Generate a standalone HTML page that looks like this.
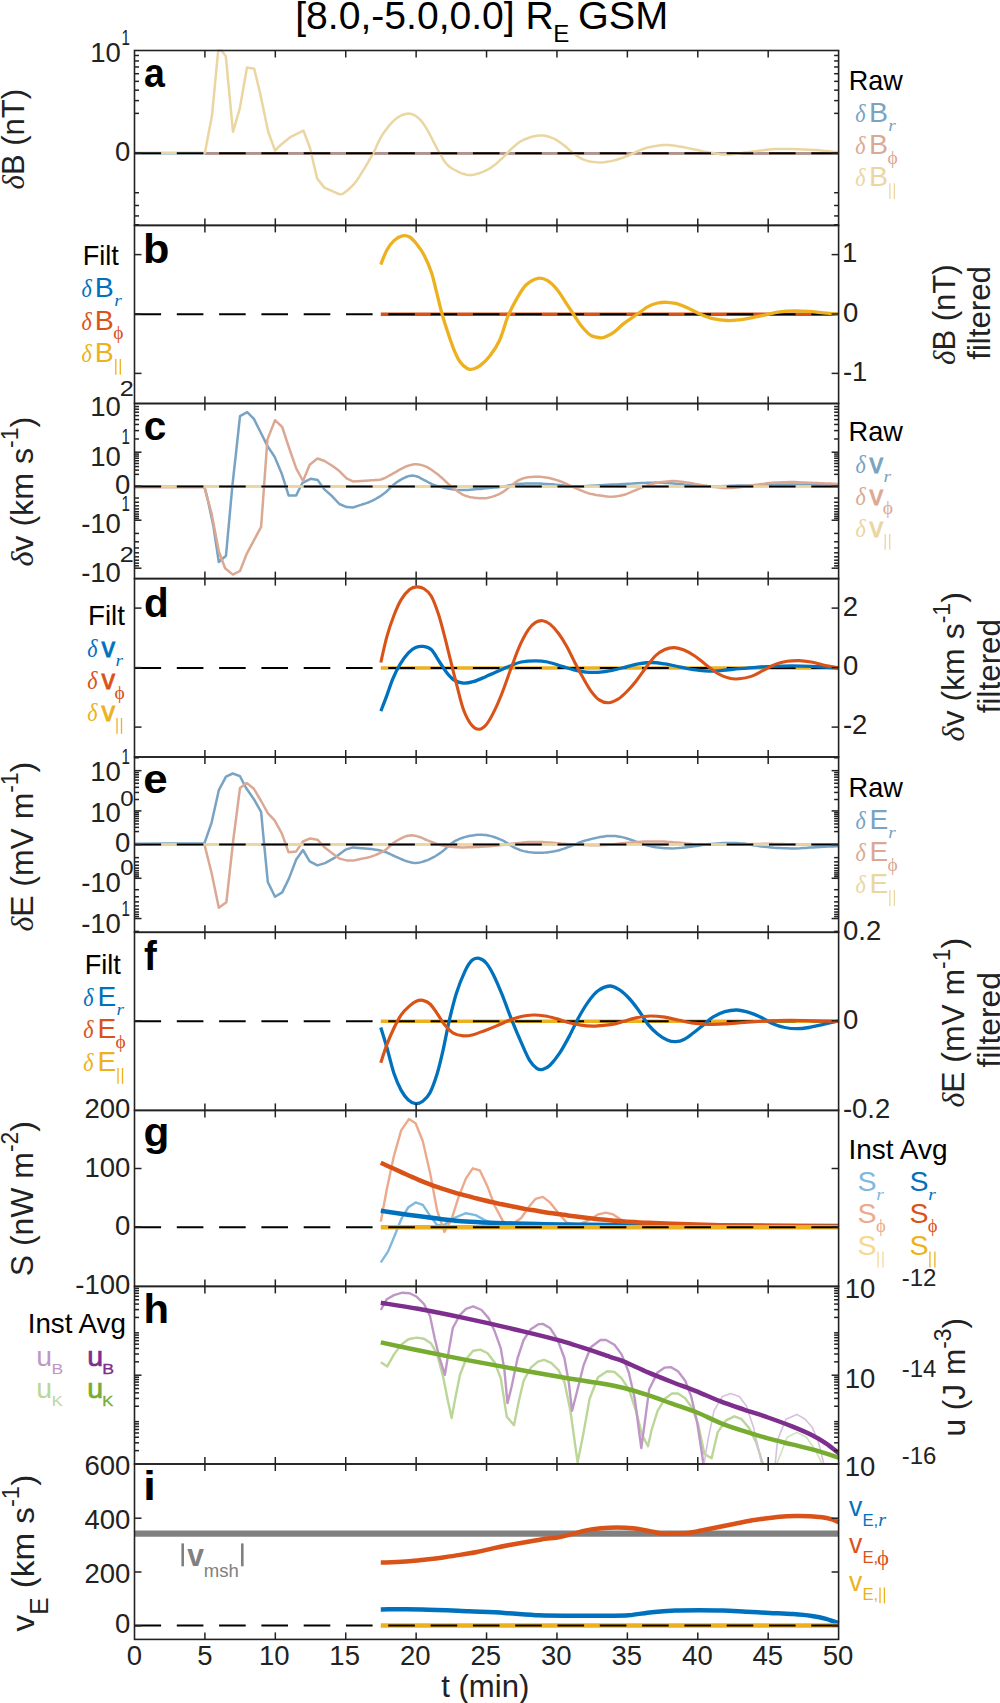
<!DOCTYPE html>
<html><head><meta charset="utf-8"><style>html,body{margin:0;padding:0;background:#fff;overflow:hidden;}svg{display:block;}</style></head>
<body><svg width="1000" height="1703" viewBox="0 0 1000 1703" font-family="&quot;Liberation Sans&quot;, sans-serif"><rect width="1000" height="1703" fill="#fff"/>
<line x1="134.50" y1="153.20" x2="838.60" y2="153.20" stroke="#78A3C2" stroke-width="2.5" />
<line x1="204.90" y1="153.50" x2="838.60" y2="153.50" stroke="#BC8E80" stroke-width="2.5" />
<polyline points="134.2,152.7 204.9,152.7 212.0,115.6 218.2,50.5 221.8,50.8 225.8,56.2 233.0,131.8 239.8,108.4 247.0,67.4 254.2,68.8 260.3,94.0 268.2,131.8 275.0,150.5 281.2,144.4 290.2,137.2 303.5,130.7 310.0,148.0 317.2,178.6 324.4,187.6 338.8,194.0 340.3,194.3 341.4,194.3 342.2,194.1 343.1,193.6 344.0,192.9 345.3,191.9 346.9,190.7 348.6,189.3 350.4,187.7 352.4,185.7 354.6,183.3 356.8,180.4 359.3,176.7 362.1,172.2 365.1,167.3 368.0,162.3 370.7,157.6 373.0,153.4 374.9,149.9 376.4,146.6 377.7,143.7 379.0,140.9 380.4,138.2 382.0,135.4 383.9,132.6 386.0,129.7 388.1,126.9 390.3,124.3 392.5,121.9 394.6,119.9 396.6,118.2 398.7,116.9 400.7,115.7 402.7,114.8 404.7,114.2 406.5,113.8 408.3,113.6 409.9,113.7 411.5,114.0 413.1,114.6 414.6,115.3 416.2,116.3 417.7,117.4 419.1,118.6 420.5,120.0 422.0,121.8 423.5,123.9 425.2,126.4 427.1,129.6 429.3,133.5 431.5,137.8 433.7,142.2 435.9,146.3 437.8,149.8 439.5,152.8 441.0,155.5 442.4,158.0 443.8,160.3 445.2,162.3 446.8,164.2 448.5,165.9 450.3,167.3 452.1,168.5 453.9,169.5 455.8,170.5 457.6,171.4 459.4,172.3 461.2,173.1 463.0,173.8 464.8,174.3 466.6,174.8 468.4,175.0 470.2,175.1 472.0,174.9 473.7,174.7 475.5,174.3 477.4,173.8 479.2,173.2 481.1,172.5 483.0,171.8 485.0,170.9 487.0,170.0 488.9,168.9 490.8,167.8 492.6,166.5 494.5,165.1 496.3,163.6 498.0,162.1 499.8,160.4 501.6,158.8 503.4,157.1 505.2,155.2 507.0,153.3 508.8,151.5 510.6,149.7 512.4,148.0 514.1,146.5 515.8,145.0 517.5,143.6 519.2,142.3 521.1,141.1 523.2,140.0 525.6,139.0 528.3,138.0 531.2,137.0 534.1,136.3 536.8,135.7 539.4,135.4 541.7,135.4 543.9,135.6 546.0,136.0 548.1,136.5 550.0,137.2 552.0,137.9 553.9,138.7 555.7,139.7 557.5,140.7 559.3,141.9 561.0,143.1 562.8,144.4 564.6,145.8 566.4,147.3 568.2,148.9 570.0,150.5 571.8,152.0 573.6,153.4 575.4,154.7 577.1,155.9 578.8,157.1 580.5,158.1 582.4,159.1 584.4,159.9 586.6,160.6 588.9,161.2 591.4,161.7 593.9,162.0 596.4,162.3 598.8,162.4 601.2,162.4 603.6,162.2 606.0,161.9 608.4,161.6 610.8,161.1 613.2,160.6 615.6,160.0 618.1,159.3 620.6,158.4 623.1,157.6 625.4,156.7 627.6,155.9 629.6,155.1 631.5,154.2 633.2,153.3 634.9,152.5 636.6,151.7 638.4,150.9 640.2,150.2 641.9,149.5 643.6,148.9 645.3,148.3 647.2,147.8 649.2,147.3 651.4,146.8 653.7,146.3 656.2,145.9 658.7,145.5 661.2,145.3 663.6,145.1 666.0,145.1 668.3,145.1 670.6,145.3 672.9,145.5 675.4,145.8 678.0,146.2 680.8,146.7 683.9,147.2 687.0,147.9 690.1,148.6 693.2,149.2 696.0,149.8 698.6,150.3 701.1,150.9 703.4,151.4 705.7,151.8 708.0,152.3 710.4,152.7 712.8,153.1 715.2,153.5 717.6,153.8 720.0,154.2 722.4,154.4 724.8,154.5 727.2,154.5 729.5,154.4 731.8,154.2 734.1,154.0 736.6,153.7 739.2,153.4 742.0,153.1 744.9,152.6 748.0,152.2 751.1,151.7 754.2,151.3 757.2,150.9 760.2,150.5 763.2,150.2 766.2,149.8 769.2,149.5 772.2,149.3 775.2,149.1 778.2,149.0 781.2,148.9 784.2,148.9 787.2,149.0 790.2,149.0 793.2,149.1 796.2,149.2 799.3,149.3 802.4,149.4 805.5,149.5 808.4,149.7 811.2,149.8 813.8,150.0 816.3,150.1 818.7,150.3 821.0,150.5 823.3,150.7 825.6,150.9 828.0,151.1 830.6,151.4 833.2,151.7 835.6,151.9 837.6,152.1 839.0,152.3" fill="none" stroke="#EBD6A2" stroke-width="2.5" stroke-linejoin="round" stroke-linecap="butt" />
<line x1="134.50" y1="153.20" x2="838.60" y2="153.20" stroke="#000" stroke-width="2.0" stroke-dasharray="26.6 15.7"/>
<line x1="380.80" y1="314.30" x2="838.60" y2="314.30" stroke="#D95319" stroke-width="3.4" />
<line x1="134.50" y1="314.30" x2="838.60" y2="314.30" stroke="#000" stroke-width="2.0" stroke-dasharray="26.6 15.7"/>
<path d="M380.8,264.6 C381.8,262.2 384.6,254.2 386.8,250.2 C389.0,246.2 391.4,243.0 394.0,240.6 C396.6,238.2 399.8,236.4 402.4,235.8 C405.0,235.2 407.2,235.6 409.6,237.0 C412.0,238.4 414.4,241.2 416.8,244.2 C419.2,247.2 421.6,250.4 424.0,255.0 C426.4,259.6 429.2,266.0 431.2,271.8 C433.2,277.6 434.2,282.8 436.0,289.8 C437.8,296.8 440.0,306.6 442.0,313.8 C444.0,321.0 446.0,327.0 448.0,333.0 C450.0,339.0 452.0,345.0 454.0,349.8 C456.0,354.6 457.8,358.7 460.0,361.8 C462.2,364.9 465.0,367.3 467.2,368.5 C469.4,369.7 471.0,369.5 473.2,369.0 C475.4,368.5 477.6,367.6 480.4,365.4 C483.2,363.2 486.8,360.0 490.0,355.8 C493.2,351.6 496.6,346.8 499.6,340.2 C502.6,333.6 505.2,323.0 508.0,316.2 C510.8,309.4 513.4,304.6 516.4,299.4 C519.4,294.2 522.4,288.5 526.0,285.0 C529.6,281.5 534.4,279.0 538.0,278.3 C541.6,277.6 544.4,278.8 547.6,280.7 C550.8,282.6 554.0,285.9 557.2,289.8 C560.4,293.7 564.0,300.0 566.8,304.2 C569.6,308.4 571.6,311.4 574.0,315.0 C576.4,318.6 578.4,322.4 581.2,325.8 C584.0,329.2 587.6,333.4 590.8,335.4 C594.0,337.4 597.9,337.6 600.4,337.8 C602.9,338.0 603.7,337.6 606.0,336.6 C608.3,335.6 611.4,334.0 614.4,331.8 C617.4,329.6 620.4,326.2 624.0,323.4 C627.6,320.6 632.0,317.8 636.0,315.0 C640.0,312.2 644.4,308.6 648.0,306.6 C651.6,304.6 654.4,303.7 657.6,303.0 C660.8,302.3 664.0,302.2 667.2,302.3 C670.4,302.4 673.2,302.7 676.8,303.7 C680.4,304.7 684.8,306.7 688.8,308.5 C692.8,310.3 696.8,312.6 700.8,314.3 C704.8,316.0 708.4,317.6 712.8,318.6 C717.2,319.6 722.8,320.3 727.2,320.5 C731.6,320.7 734.8,320.3 739.2,319.8 C743.6,319.3 748.8,318.3 753.6,317.4 C758.4,316.5 763.6,315.2 768.0,314.3 C772.4,313.4 775.6,312.5 780.0,311.9 C784.4,311.3 789.6,311.0 794.4,310.9 C799.2,310.8 804.0,311.1 808.8,311.4 C813.6,311.7 818.2,312.3 823.2,312.8 C828.2,313.3 836.4,314.1 839.0,314.3" fill="none" stroke="#EDB120" stroke-width="3.3" stroke-linejoin="round" />
<line x1="134.50" y1="486.40" x2="838.60" y2="486.40" stroke="#EBD6A2" stroke-width="2.5" />
<polyline points="134.2,486.4 204.4,486.4 208.0,500.8 213.4,526.0 218.8,562.0 226.0,555.7 232.3,486.4 235.9,454.0 240.0,416.2 247.2,412.2 253.9,418.9 260.2,431.5 267.4,445.9 274.6,456.7 281.8,473.8 288.6,495.4 296.2,495.4 302.5,482.8 310.6,478.8 317.8,480.1 324.1,489.1 332.2,496.3 339.4,504.0 346.6,507.1 352.9,507.5 361.0,504.9 362.7,504.3 364.4,503.8 366.3,503.1 368.2,502.5 370.1,501.7 372.0,500.8 373.9,499.8 375.9,498.8 377.9,497.6 380.0,496.4 382.0,495.0 384.0,493.6 386.0,492.0 388.0,490.1 390.0,488.2 392.0,486.2 394.0,484.4 396.0,482.8 398.0,481.4 400.1,480.1 402.2,478.9 404.3,477.8 406.2,477.0 408.0,476.3 409.6,475.9 411.1,475.7 412.4,475.6 413.7,475.8 415.0,476.0 416.4,476.3 417.8,476.7 419.2,477.3 420.5,478.1 421.9,478.8 423.3,479.6 424.8,480.4 426.3,481.2 427.8,482.0 429.4,482.9 431.0,483.7 432.6,484.5 434.4,485.2 436.2,485.8 438.1,486.4 440.1,486.9 442.1,487.4 444.2,487.9 446.4,488.3 448.7,488.7 451.0,489.1 453.4,489.4 455.9,489.7 458.4,489.9 460.8,490.0 463.2,490.0 465.5,490.0 467.9,489.9 470.2,489.7 472.7,489.5 475.2,489.3 477.9,489.1 480.8,488.9 483.8,488.6 486.7,488.3 489.4,488.1 492.0,487.8 494.2,487.6 496.3,487.4 498.1,487.2 500.0,486.9 501.9,486.7 504.0,486.4 506.3,486.0 508.6,485.6 511.1,485.1 513.5,484.7 516.0,484.3 518.4,484.0 520.8,483.8 523.2,483.7 525.6,483.6 528.0,483.5 530.4,483.5 532.8,483.5 535.2,483.5 537.6,483.6 540.0,483.6 542.4,483.7 544.8,483.9 547.2,484.0 549.6,484.2 552.0,484.3 554.4,484.6 556.8,484.8 559.2,485.0 561.6,485.2 563.9,485.4 566.0,485.7 568.2,485.9 570.5,486.2 573.0,486.3 576.0,486.4 579.4,486.3 583.3,486.2 587.4,485.9 591.6,485.7 595.9,485.4 600.0,485.2 604.0,485.0 608.0,484.8 612.0,484.6 616.0,484.4 620.0,484.2 624.0,484.0 628.1,483.8 632.4,483.6 636.6,483.3 640.7,483.1 644.6,482.9 648.0,482.8 650.9,482.7 653.4,482.7 655.6,482.6 657.8,482.7 660.0,482.7 662.4,482.8 665.1,482.9 667.8,483.1 670.7,483.3 673.5,483.5 676.4,483.8 679.2,484.0 682.0,484.2 684.7,484.5 687.5,484.7 690.2,485.0 693.1,485.2 696.0,485.4 699.1,485.6 702.2,485.8 705.5,486.0 708.7,486.2 712.0,486.3 715.2,486.4 718.4,486.4 721.5,486.3 724.7,486.1 727.8,486.0 731.1,485.8 734.4,485.7 737.8,485.6 741.3,485.5 744.9,485.4 748.5,485.4 752.2,485.3 756.0,485.2 759.9,485.1 763.8,485.0 767.9,484.8 771.9,484.7 776.0,484.6 780.0,484.5 783.9,484.5 787.6,484.4 791.3,484.4 795.2,484.4 799.4,484.5 804.0,484.5 809.6,484.6 816.1,484.7 823.0,484.9 829.5,485.0 835.1,485.1 839.0,485.2" fill="none" stroke="#78A3C2" stroke-width="2.5" stroke-linejoin="round" stroke-linecap="butt" />
<polyline points="134.2,487.3 204.4,487.3 211.6,513.4 218.8,551.2 225.1,568.3 232.8,574.6 240.0,571.0 246.7,553.9 253.9,540.4 261.1,526.9 263.8,490.0 267.4,439.6 275.0,420.2 282.2,427.0 288.1,445.0 296.2,468.4 303.0,481.0 309.7,464.8 317.4,458.5 324.1,460.8 332.2,465.7 339.4,471.1 346.6,478.3 352.9,481.4 361.0,481.0 362.4,480.9 363.7,480.8 365.1,480.8 366.5,480.7 368.0,480.5 369.6,480.4 371.4,480.3 373.3,480.2 375.4,480.1 377.5,480.0 379.6,479.7 381.6,479.2 383.6,478.5 385.6,477.6 387.6,476.5 389.6,475.4 391.6,474.3 393.6,473.2 395.6,472.1 397.6,470.9 399.7,469.7 401.7,468.6 403.7,467.6 405.6,466.7 407.5,466.0 409.3,465.4 411.1,464.9 412.8,464.6 414.6,464.3 416.4,464.3 418.2,464.4 420.0,464.7 421.7,465.1 423.5,465.6 425.3,466.3 427.2,467.2 429.1,468.3 431.1,469.5 433.1,470.9 435.2,472.4 437.2,474.0 439.2,475.6 441.2,477.3 443.2,479.1 445.2,481.0 447.2,482.9 449.2,484.7 451.2,486.4 453.2,488.0 455.2,489.6 457.2,491.1 459.2,492.5 461.2,493.7 463.2,494.8 465.2,495.7 467.2,496.3 469.2,496.9 471.2,497.3 473.2,497.6 475.2,497.9 477.2,498.1 479.2,498.3 481.2,498.3 483.2,498.3 485.2,498.2 487.2,497.9 489.2,497.5 491.3,497.0 493.4,496.4 495.4,495.7 497.3,494.9 499.2,494.1 500.9,493.2 502.6,492.2 504.2,491.1 505.7,489.9 507.2,488.8 508.8,487.6 510.4,486.4 512.0,485.1 513.6,483.8 515.2,482.5 516.8,481.4 518.4,480.4 520.0,479.6 521.5,479.0 523.0,478.4 524.6,478.0 526.3,477.6 528.0,477.3 529.9,477.0 531.8,476.9 533.9,476.7 535.9,476.7 538.0,476.7 540.0,476.8 542.0,477.0 544.0,477.2 546.0,477.5 548.0,477.8 550.0,478.2 552.0,478.7 554.0,479.2 556.0,479.9 558.0,480.5 560.0,481.2 562.0,482.0 564.0,482.8 566.0,483.6 568.0,484.6 570.0,485.5 572.0,486.5 574.0,487.4 576.0,488.3 578.0,489.2 580.0,490.0 582.0,490.9 584.0,491.7 586.0,492.4 588.0,493.1 590.0,493.7 592.0,494.1 594.0,494.5 596.0,494.9 598.0,495.2 600.0,495.5 602.0,495.8 604.0,496.1 606.0,496.4 608.0,496.6 610.0,496.7 612.0,496.7 614.0,496.6 616.0,496.4 618.0,496.1 620.0,495.8 622.0,495.3 624.0,494.8 626.0,494.2 628.0,493.4 630.0,492.6 632.0,491.7 634.0,490.8 636.0,490.0 638.0,489.2 640.0,488.3 642.0,487.5 644.0,486.7 646.0,485.9 648.0,485.2 650.0,484.6 651.9,484.0 653.9,483.5 655.8,483.1 657.9,482.7 660.0,482.3 662.3,482.0 664.6,481.7 667.1,481.4 669.5,481.2 672.0,481.1 674.4,481.1 676.8,481.2 679.2,481.4 681.6,481.7 684.0,482.1 686.4,482.4 688.8,482.8 691.2,483.2 693.7,483.6 696.1,484.1 698.6,484.6 700.9,485.0 703.2,485.4 705.3,485.7 707.4,486.1 709.4,486.3 711.3,486.6 713.2,486.9 715.2,487.1 717.2,487.3 719.1,487.6 721.1,487.8 723.0,488.0 725.1,488.1 727.2,488.1 729.5,488.0 731.8,487.9 734.3,487.7 736.7,487.5 739.2,487.2 741.6,486.9 744.0,486.6 746.3,486.2 748.6,485.8 751.0,485.4 753.5,485.1 756.0,484.7 758.6,484.4 761.3,484.0 764.1,483.7 766.9,483.3 769.8,483.0 772.8,482.8 775.9,482.6 779.0,482.4 782.2,482.3 785.5,482.2 788.8,482.1 792.0,482.1 795.2,482.1 798.5,482.2 801.8,482.4 805.0,482.5 808.1,482.7 811.2,482.8 814.2,482.9 817.2,483.0 820.1,483.2 822.9,483.3 825.6,483.4 828.0,483.5 830.3,483.6 832.5,483.7 834.5,483.8 836.4,483.9 837.9,483.9 839.0,484.0" fill="none" stroke="#DBA993" stroke-width="2.5" stroke-linejoin="round" stroke-linecap="butt" />
<line x1="134.50" y1="486.40" x2="838.60" y2="486.40" stroke="#EBD6A2" stroke-width="2.5" />
<line x1="134.50" y1="486.40" x2="838.60" y2="486.40" stroke="#000" stroke-width="2.0" stroke-dasharray="26.6 15.7"/>
<line x1="380.80" y1="668.00" x2="838.60" y2="668.00" stroke="#EDB120" stroke-width="3.6" />
<line x1="134.50" y1="668.00" x2="838.60" y2="668.00" stroke="#000" stroke-width="2.0" stroke-dasharray="26.6 15.7"/>
<path d="M380.8,711.2 C381.8,708.6 384.8,701.0 386.8,695.6 C388.8,690.2 390.6,684.0 392.8,678.8 C395.0,673.6 397.4,668.7 400.0,664.4 C402.6,660.1 405.8,655.7 408.4,652.9 C411.0,650.1 413.2,648.7 415.6,647.6 C418.0,646.5 420.2,646.1 422.8,646.4 C425.4,646.7 428.4,646.9 431.2,649.5 C434.0,652.1 437.0,658.1 439.6,662.0 C442.2,665.9 444.4,669.8 446.8,672.8 C449.2,675.8 451.2,678.3 454.0,680.0 C456.8,681.7 460.4,682.8 463.6,683.1 C466.8,683.4 469.6,682.7 473.2,681.7 C476.8,680.7 481.2,678.6 485.2,676.9 C489.2,675.2 493.2,673.4 497.2,671.6 C501.2,669.8 505.2,667.9 509.2,666.3 C513.2,664.7 516.8,662.9 521.2,662.0 C525.6,661.1 531.2,660.8 535.6,660.8 C540.0,660.8 543.2,661.1 547.6,662.0 C552.0,662.9 557.6,665.0 562.0,666.3 C566.4,667.6 570.0,668.9 574.0,669.9 C578.0,670.9 582.0,671.7 586.0,672.1 C590.0,672.5 593.7,672.6 598.0,672.3 C602.3,672.0 607.3,671.3 612.0,670.4 C616.7,669.5 622.0,667.9 626.4,666.8 C630.8,665.7 634.0,664.6 638.4,663.9 C642.8,663.2 648.4,662.5 652.8,662.5 C657.2,662.5 660.4,663.2 664.8,663.9 C669.2,664.6 674.4,665.8 679.2,666.8 C684.0,667.8 688.8,669.0 693.6,669.7 C698.4,670.4 703.2,671.0 708.0,671.1 C712.8,671.2 717.2,670.8 722.4,670.4 C727.6,670.0 733.6,669.2 739.2,668.7 C744.8,668.2 750.4,667.7 756.0,667.3 C761.6,666.9 766.8,666.5 772.8,666.3 C778.8,666.0 785.6,665.8 792.0,665.8 C798.4,665.8 803.4,665.9 811.2,666.3 C819.0,666.7 834.4,667.7 839.0,668.0" fill="none" stroke="#0072BD" stroke-width="3.3" stroke-linejoin="round" />
<path d="M380.8,662.5 C381.8,658.2 384.6,644.7 386.8,636.8 C389.0,628.9 391.6,621.4 394.0,615.2 C396.4,609.0 398.6,603.9 401.2,599.6 C403.8,595.3 407.0,591.6 409.6,589.5 C412.2,587.4 414.4,587.0 416.8,586.9 C419.2,586.8 421.6,587.3 424.0,588.8 C426.4,590.3 428.8,591.8 431.2,596.0 C433.6,600.2 436.2,607.4 438.4,614.0 C440.6,620.6 442.4,628.0 444.4,635.6 C446.4,643.2 448.4,651.6 450.4,659.6 C452.4,667.6 454.2,675.2 456.4,683.6 C458.6,692.0 461.0,703.0 463.6,710.0 C466.2,717.0 469.4,722.4 472.0,725.6 C474.6,728.8 476.8,729.4 479.2,729.2 C481.6,729.0 484.0,727.2 486.4,724.4 C488.8,721.6 491.0,717.6 493.6,712.4 C496.2,707.2 499.0,700.8 502.0,693.2 C505.0,685.6 508.6,674.8 511.6,666.8 C514.6,658.8 517.2,651.4 520.0,645.2 C522.8,639.0 525.8,633.4 528.4,629.6 C531.0,625.8 533.2,623.9 535.6,622.4 C538.0,620.9 540.4,620.4 542.8,620.7 C545.2,621.0 547.4,622.0 550.0,624.1 C552.6,626.2 555.6,629.5 558.4,633.2 C561.2,636.9 564.0,641.4 566.8,646.4 C569.6,651.4 572.4,657.8 575.2,663.2 C578.0,668.6 581.0,674.2 583.6,678.8 C586.2,683.4 588.2,687.3 590.8,690.8 C593.4,694.3 596.3,697.9 599.2,699.9 C602.1,701.9 605.3,702.9 608.4,702.8 C611.5,702.7 615.0,701.0 618.0,699.2 C621.0,697.4 623.4,695.0 626.4,692.0 C629.4,689.0 632.8,685.2 636.0,681.2 C639.2,677.2 642.4,672.2 645.6,668.0 C648.8,663.8 652.0,659.1 655.2,656.0 C658.4,652.9 661.6,650.9 664.8,649.5 C668.0,648.1 671.2,647.5 674.4,647.6 C677.6,647.7 680.6,648.6 684.0,650.0 C687.4,651.4 691.2,653.6 694.8,656.0 C698.4,658.4 701.8,661.5 705.6,664.4 C709.4,667.3 713.6,671.2 717.6,673.5 C721.6,675.8 726.0,677.4 729.6,678.3 C733.2,679.2 735.6,679.1 739.2,678.8 C742.8,678.5 747.2,677.8 751.2,676.4 C755.2,675.0 759.2,672.4 763.2,670.4 C767.2,668.4 771.2,665.9 775.2,664.4 C779.2,662.9 783.2,661.9 787.2,661.3 C791.2,660.7 795.2,660.5 799.2,660.6 C803.2,660.7 807.2,661.3 811.2,662.0 C815.2,662.7 818.6,663.9 823.2,664.9 C827.8,665.9 836.4,667.5 839.0,668.0" fill="none" stroke="#D95319" stroke-width="3.1" stroke-linejoin="round" />
<line x1="134.50" y1="844.40" x2="838.60" y2="844.40" stroke="#EBD6A2" stroke-width="2.5" />
<polyline points="134.2,843.8 204.4,843.3 211.6,822.6 218.8,790.2 226.0,776.7 232.8,773.5 240.0,776.2 245.8,787.5 253.9,799.2 261.1,811.8 263.8,840.6 267.8,882.0 275.0,896.8 282.2,892.4 289.0,878.4 296.2,859.5 303.0,850.0 309.7,861.3 317.4,865.4 325.0,863.1 334.0,858.2 345.7,849.6 352.9,847.4 361.0,848.2 362.7,848.3 364.4,848.4 366.3,848.6 368.2,848.7 370.1,848.9 372.0,849.1 373.9,849.4 375.9,849.7 377.9,850.0 380.0,850.4 382.0,850.9 384.0,851.5 386.0,852.2 388.0,853.1 390.0,854.0 392.0,855.0 394.0,855.9 396.0,856.8 398.0,857.7 400.1,858.6 402.2,859.5 404.2,860.3 406.1,861.0 408.0,861.6 409.7,862.1 411.3,862.4 412.8,862.7 414.3,862.9 415.9,862.9 417.6,862.8 419.5,862.5 421.4,862.1 423.5,861.5 425.5,860.8 427.6,860.1 429.6,859.2 431.6,858.2 433.6,857.2 435.6,856.0 437.6,854.7 439.6,853.4 441.6,852.0 443.6,850.4 445.6,848.7 447.6,846.8 449.6,845.0 451.6,843.3 453.6,841.9 455.6,840.7 457.5,839.8 459.5,838.9 461.4,838.2 463.5,837.5 465.6,836.9 467.9,836.3 470.3,835.8 472.8,835.4 475.3,835.0 477.7,834.8 480.0,834.7 482.1,834.7 484.2,834.9 486.1,835.1 488.1,835.5 490.0,835.9 492.0,836.4 494.0,837.0 496.0,837.7 498.0,838.5 500.0,839.3 502.0,840.2 504.0,841.2 506.0,842.3 508.0,843.6 510.0,844.9 512.0,846.2 514.0,847.4 516.0,848.4 518.0,849.2 519.9,850.0 521.9,850.6 523.8,851.1 525.9,851.6 528.0,852.0 530.3,852.3 532.6,852.5 535.1,852.7 537.5,852.8 540.0,852.8 542.4,852.7 544.8,852.6 547.2,852.4 549.6,852.1 552.0,851.7 554.4,851.3 556.8,850.8 559.2,850.2 561.7,849.4 564.1,848.6 566.6,847.7 568.9,846.8 571.2,846.0 573.3,845.2 575.2,844.4 577.1,843.6 578.9,842.7 581.0,842.0 583.2,841.2 585.8,840.4 588.6,839.7 591.6,838.9 594.6,838.2 597.4,837.6 600.0,837.1 602.3,836.7 604.4,836.4 606.3,836.1 608.2,836.0 610.1,835.9 612.0,835.9 614.0,836.0 615.9,836.1 617.9,836.4 619.8,836.7 621.9,837.1 624.0,837.6 626.3,838.2 628.6,839.0 631.1,839.8 633.5,840.7 636.0,841.6 638.4,842.4 640.7,843.2 643.0,844.0 645.3,844.7 647.6,845.5 650.1,846.1 652.8,846.7 655.7,847.2 658.8,847.6 662.1,847.9 665.4,848.2 668.7,848.3 672.0,848.4 675.2,848.3 678.5,848.1 681.8,847.8 685.0,847.4 688.1,847.1 691.2,846.7 694.1,846.3 696.9,845.9 699.6,845.5 702.3,845.1 705.1,844.7 708.0,844.3 711.1,844.0 714.3,843.7 717.6,843.4 720.9,843.2 724.1,843.0 727.2,842.9 730.2,842.9 733.1,842.9 735.9,843.0 738.7,843.2 741.4,843.4 744.0,843.6 746.5,843.9 748.8,844.3 751.0,844.7 753.3,845.2 755.8,845.6 758.4,846.0 761.3,846.4 764.4,846.7 767.7,847.1 771.0,847.4 774.3,847.7 777.6,847.9 780.8,848.1 784.0,848.2 787.2,848.3 790.4,848.4 793.6,848.4 796.8,848.4 800.0,848.3 803.1,848.1 806.2,847.9 809.3,847.6 812.6,847.4 816.0,847.2 819.9,847.0 824.2,846.8 828.7,846.6 832.9,846.5 836.5,846.3 839.0,846.2" fill="none" stroke="#78A3C2" stroke-width="2.5" stroke-linejoin="round" stroke-linecap="butt" />
<polyline points="134.2,844.4 204.4,844.4 211.6,873.0 218.8,907.7 226.4,902.2 233.2,840.6 240.0,788.0 246.7,783.0 253.9,788.8 261.1,801.0 267.8,813.2 274.6,820.4 281.8,833.4 288.6,852.3 296.2,851.4 303.0,841.5 310.2,838.4 317.4,839.7 324.1,846.9 332.2,853.2 339.4,858.6 346.6,860.4 353.8,860.4 362.8,858.6 364.3,858.3 365.7,858.0 367.2,857.7 368.7,857.3 370.3,856.9 372.0,856.3 373.8,855.6 375.8,854.9 377.8,854.0 379.9,853.1 382.0,852.0 384.0,850.8 386.0,849.4 388.0,847.8 390.0,846.0 392.0,844.2 394.0,842.6 396.0,841.2 398.0,840.0 400.1,838.8 402.2,837.8 404.2,836.9 406.1,836.2 408.0,835.7 409.7,835.4 411.3,835.3 412.8,835.4 414.3,835.6 415.9,836.0 417.6,836.4 419.5,837.0 421.4,837.7 423.5,838.6 425.5,839.5 427.6,840.4 429.6,841.2 431.6,841.9 433.5,842.7 435.5,843.4 437.4,844.1 439.5,844.8 441.6,845.3 443.8,845.8 446.1,846.2 448.5,846.5 450.9,846.8 453.4,847.0 456.0,847.2 458.7,847.3 461.4,847.4 464.2,847.4 467.1,847.3 470.0,847.3 472.8,847.2 475.6,847.1 478.5,847.0 481.4,846.8 484.2,846.6 486.9,846.4 489.6,846.2 492.1,846.0 494.6,845.8 497.0,845.6 499.3,845.3 501.6,845.1 504.0,844.8 506.4,844.5 508.8,844.2 511.2,843.8 513.6,843.5 516.0,843.2 518.4,842.9 520.8,842.7 523.2,842.4 525.6,842.2 528.0,842.1 530.4,842.0 532.8,841.9 535.2,841.9 537.5,841.9 539.9,842.0 542.2,842.1 544.7,842.2 547.2,842.4 549.9,842.6 552.6,842.8 555.5,843.1 558.3,843.3 561.2,843.6 564.0,843.8 566.8,844.0 569.5,844.2 572.2,844.4 575.0,844.5 577.9,844.7 580.8,844.8 583.9,844.9 587.0,845.1 590.2,845.2 593.5,845.3 596.8,845.3 600.0,845.3 603.2,845.1 606.4,844.9 609.6,844.6 612.8,844.2 616.0,843.9 619.2,843.6 622.4,843.3 625.6,843.0 628.8,842.7 632.0,842.4 635.2,842.1 638.4,841.9 641.6,841.7 644.8,841.6 648.0,841.5 651.2,841.4 654.4,841.4 657.6,841.4 660.8,841.5 664.0,841.6 667.2,841.8 670.4,841.9 673.6,842.2 676.8,842.4 679.9,842.7 683.0,843.0 686.1,843.4 689.2,843.7 692.5,844.1 696.0,844.3 699.7,844.5 703.6,844.6 707.7,844.7 711.8,844.8 715.9,844.8 720.0,844.8 724.0,844.8 728.0,844.7 732.0,844.6 736.0,844.5 740.0,844.4 744.0,844.3 748.0,844.2 752.0,844.1 756.0,844.0 760.0,843.9 764.0,843.8 768.0,843.8 771.7,843.8 775.1,843.9 778.6,844.0 782.3,844.1 786.7,844.2 792.0,844.3 799.0,844.4 807.7,844.5 817.0,844.6 826.0,844.7 833.6,844.7 839.0,844.8" fill="none" stroke="#DBA993" stroke-width="2.5" stroke-linejoin="round" stroke-linecap="butt" />
<line x1="134.50" y1="844.40" x2="838.60" y2="844.40" stroke="#EBD6A2" stroke-width="2.5" />
<line x1="134.50" y1="844.40" x2="838.60" y2="844.40" stroke="#000" stroke-width="2.0" stroke-dasharray="26.6 15.7"/>
<line x1="380.80" y1="1021.30" x2="838.60" y2="1021.30" stroke="#EDB120" stroke-width="3.6" />
<line x1="134.50" y1="1021.30" x2="838.60" y2="1021.30" stroke="#000" stroke-width="2.0" stroke-dasharray="26.6 15.7"/>
<path d="M380.8,1027.5 C381.8,1030.8 384.6,1039.5 386.8,1047.2 C389.0,1054.9 391.6,1066.4 394.0,1073.6 C396.4,1080.8 398.8,1086.0 401.2,1090.4 C403.6,1094.8 406.0,1097.8 408.4,1100.0 C410.8,1102.2 413.2,1103.4 415.6,1103.6 C418.0,1103.8 420.4,1103.0 422.8,1101.2 C425.2,1099.4 427.6,1097.4 430.0,1092.8 C432.4,1088.2 435.0,1080.8 437.2,1073.6 C439.4,1066.4 441.2,1058.4 443.2,1049.6 C445.2,1040.8 447.0,1030.2 449.2,1020.8 C451.4,1011.4 453.8,1001.4 456.4,993.2 C459.0,985.0 462.2,977.1 464.8,971.6 C467.4,966.1 469.6,962.5 472.0,960.3 C474.4,958.1 476.8,957.9 479.2,958.4 C481.6,958.9 484.0,960.4 486.4,963.2 C488.8,966.0 491.0,970.0 493.6,975.2 C496.2,980.4 499.0,987.0 502.0,994.4 C505.0,1001.8 508.4,1011.6 511.6,1019.6 C514.8,1027.6 518.2,1035.6 521.2,1042.4 C524.2,1049.2 527.0,1056.1 529.6,1060.4 C532.2,1064.7 534.6,1066.8 536.8,1068.3 C539.0,1069.8 540.6,1069.8 542.8,1069.3 C545.0,1068.8 547.2,1067.9 550.0,1065.2 C552.8,1062.5 556.4,1058.0 559.6,1053.2 C562.8,1048.4 566.0,1042.4 569.2,1036.4 C572.4,1030.4 575.6,1023.0 578.8,1017.2 C582.0,1011.4 585.2,1006.0 588.4,1001.6 C591.6,997.2 594.5,993.4 598.0,990.8 C601.5,988.2 606.1,986.2 609.6,986.0 C613.1,985.8 616.0,987.6 619.2,989.6 C622.4,991.6 625.6,994.6 628.8,998.0 C632.0,1001.4 635.2,1005.6 638.4,1010.0 C641.6,1014.4 644.8,1020.4 648.0,1024.4 C651.2,1028.4 654.4,1031.4 657.6,1034.0 C660.8,1036.6 664.2,1038.7 667.2,1040.0 C670.2,1041.3 672.8,1041.8 675.6,1041.7 C678.4,1041.6 681.0,1041.0 684.0,1039.5 C687.0,1038.0 690.4,1035.2 693.6,1032.8 C696.8,1030.4 700.0,1027.7 703.2,1025.1 C706.4,1022.5 709.2,1019.4 712.8,1017.2 C716.4,1015.0 720.8,1012.9 724.8,1011.7 C728.8,1010.5 732.8,1009.9 736.8,1010.0 C740.8,1010.1 744.8,1011.2 748.8,1012.4 C752.8,1013.6 756.8,1015.3 760.8,1017.2 C764.8,1019.1 768.8,1022.0 772.8,1023.7 C776.8,1025.4 780.8,1026.7 784.8,1027.5 C788.8,1028.3 792.8,1028.7 796.8,1028.7 C800.8,1028.7 804.4,1028.2 808.8,1027.5 C813.2,1026.8 818.2,1025.5 823.2,1024.4 C828.2,1023.3 836.4,1021.4 839.0,1020.8" fill="none" stroke="#0072BD" stroke-width="3.3" stroke-linejoin="round" />
<path d="M380.8,1062.8 C381.8,1059.8 384.6,1050.6 386.8,1044.8 C389.0,1039.0 391.6,1033.0 394.0,1028.0 C396.4,1023.0 398.6,1018.5 401.2,1014.8 C403.8,1011.1 407.0,1008.2 409.6,1005.9 C412.2,1003.6 414.6,1002.0 416.8,1001.1 C419.0,1000.2 420.6,999.9 422.8,1000.4 C425.0,1000.9 427.6,1001.8 430.0,1004.0 C432.4,1006.2 434.8,1010.2 437.2,1013.6 C439.6,1017.0 441.8,1021.2 444.4,1024.4 C447.0,1027.6 449.6,1030.9 452.8,1032.8 C456.0,1034.7 460.2,1035.6 463.6,1035.9 C467.0,1036.2 469.6,1035.6 473.2,1034.7 C476.8,1033.8 481.2,1031.9 485.2,1030.4 C489.2,1028.9 493.2,1027.3 497.2,1025.6 C501.2,1023.9 505.2,1021.8 509.2,1020.3 C513.2,1018.8 517.2,1017.4 521.2,1016.5 C525.2,1015.6 529.2,1015.1 533.2,1015.0 C537.2,1014.9 541.2,1015.4 545.2,1016.0 C549.2,1016.6 553.2,1017.8 557.2,1018.9 C561.2,1020.0 565.2,1021.7 569.2,1022.7 C573.2,1023.7 577.2,1024.5 581.2,1025.1 C585.2,1025.7 590.1,1026.0 593.2,1026.1 C596.3,1026.2 596.9,1025.9 600.0,1025.6 C603.1,1025.3 608.0,1025.1 612.0,1024.4 C616.0,1023.7 620.0,1022.4 624.0,1021.3 C628.0,1020.2 631.6,1018.8 636.0,1017.9 C640.4,1017.0 645.6,1016.1 650.4,1016.0 C655.2,1015.9 660.0,1016.5 664.8,1017.2 C669.6,1017.9 674.4,1019.3 679.2,1020.3 C684.0,1021.3 688.8,1022.5 693.6,1023.2 C698.4,1023.9 702.8,1024.3 708.0,1024.4 C713.2,1024.5 718.8,1024.2 724.8,1023.9 C730.8,1023.6 736.8,1023.0 744.0,1022.5 C751.2,1022.0 760.0,1021.2 768.0,1020.8 C776.0,1020.4 780.2,1020.2 792.0,1020.3 C803.8,1020.4 831.2,1021.1 839.0,1021.3" fill="none" stroke="#D95319" stroke-width="3.2" stroke-linejoin="round" />
<polyline points="380.8,1262.4 388.0,1251.6 394.0,1237.2 401.2,1219.2 408.4,1207.2 415.6,1202.4 422.8,1204.8 430.0,1215.6 437.2,1225.2 444.4,1224.7 454.0,1218.0 466.0,1213.2 475.6,1215.1 485.2,1220.4 497.2,1224.7 514.0,1225.2 600.0,1226.0 839.0,1226.6" fill="none" stroke="#80B9DE" stroke-width="2.4" stroke-linejoin="round" stroke-linecap="butt" />
<polyline points="380.8,1221.6 386.8,1189.2 394.0,1155.6 401.2,1130.4 408.9,1119.1 415.6,1123.2 422.8,1141.2 430.0,1172.4 437.2,1210.8 444.4,1231.9 451.6,1219.2 458.8,1196.4 466.0,1178.4 472.7,1168.3 479.9,1170.5 487.6,1186.8 494.8,1206.0 503.2,1221.6 511.6,1224.7 521.2,1218.0 529.6,1206.0 535.6,1198.8 542.8,1196.9 550.0,1202.4 559.6,1214.4 566.8,1222.8 578.8,1224.7 588.4,1220.4 598.0,1214.4 606.0,1212.7 613.2,1214.4 621.6,1219.9 631.2,1222.8 648.0,1224.5 700.0,1226.0 839.0,1226.8" fill="none" stroke="#ECA98C" stroke-width="2.4" stroke-linejoin="round" stroke-linecap="butt" />
<path d="M380.8,1210.8 C383.0,1211.1 387.8,1211.8 394.0,1212.7 C400.2,1213.6 410.0,1215.0 418.0,1216.1 C426.0,1217.2 434.0,1218.3 442.0,1219.2 C450.0,1220.1 458.0,1221.0 466.0,1221.6 C474.0,1222.2 482.0,1222.5 490.0,1222.8 C498.0,1223.1 506.0,1223.3 514.0,1223.5 C522.0,1223.7 530.0,1223.8 538.0,1224.0 C546.0,1224.2 550.0,1224.3 562.0,1224.5 C574.0,1224.7 587.0,1224.7 610.0,1224.9 C633.0,1225.1 661.8,1225.4 700.0,1225.6 C738.2,1225.8 815.8,1225.9 839.0,1226.0" fill="none" stroke="#0072BD" stroke-width="4.5" stroke-linejoin="round" />
<path d="M380.8,1162.8 C383.0,1163.8 389.8,1166.9 394.0,1168.8 C398.2,1170.7 402.0,1172.5 406.0,1174.3 C410.0,1176.1 414.0,1177.9 418.0,1179.6 C422.0,1181.3 426.0,1182.9 430.0,1184.4 C434.0,1185.9 438.0,1187.4 442.0,1188.7 C446.0,1190.0 450.0,1191.1 454.0,1192.3 C458.0,1193.5 462.0,1194.6 466.0,1195.7 C470.0,1196.8 474.0,1197.8 478.0,1198.8 C482.0,1199.8 486.0,1200.8 490.0,1201.7 C494.0,1202.6 498.0,1203.5 502.0,1204.3 C506.0,1205.1 510.0,1205.9 514.0,1206.7 C518.0,1207.5 522.0,1208.4 526.0,1209.1 C530.0,1209.8 534.0,1210.3 538.0,1211.0 C542.0,1211.7 546.0,1212.4 550.0,1213.0 C554.0,1213.6 558.0,1214.0 562.0,1214.6 C566.0,1215.1 570.0,1215.8 574.0,1216.3 C578.0,1216.8 582.0,1217.3 586.0,1217.8 C590.0,1218.3 593.7,1218.8 598.0,1219.2 C602.3,1219.6 607.7,1220.0 612.0,1220.4 C616.3,1220.8 618.0,1221.2 624.0,1221.6 C630.0,1222.0 640.0,1222.4 648.0,1222.8 C656.0,1223.2 664.0,1223.5 672.0,1223.8 C680.0,1224.1 688.0,1224.3 696.0,1224.5 C704.0,1224.7 708.0,1225.0 720.0,1225.2 C732.0,1225.4 748.2,1225.7 768.0,1225.9 C787.8,1226.1 827.2,1226.3 839.0,1226.4" fill="none" stroke="#D95319" stroke-width="4.5" stroke-linejoin="round" />
<line x1="380.80" y1="1227.30" x2="838.60" y2="1227.30" stroke="#EDB120" stroke-width="4.5" />
<line x1="134.50" y1="1227.30" x2="838.60" y2="1227.30" stroke="#000" stroke-width="2.0" stroke-dasharray="26.6 15.7"/>
<defs><clipPath id="ch"><rect x="134.5" y="1286.4" width="704.1" height="177.5999999999999"/></clipPath></defs>
<g clip-path="url(#ch)">
<polyline points="380.8,1362.3 387.3,1366.4 394.0,1354.4 401.2,1344.8 408.4,1339.3 416.8,1337.6 424.0,1338.8 431.2,1343.6 437.2,1354.4 443.2,1377.2 448.0,1401.2 451.6,1418.0 455.2,1398.8 460.0,1374.8 466.0,1359.2 473.2,1350.8 480.4,1349.6 487.6,1353.2 494.8,1362.8 500.8,1378.4 506.8,1416.8 514.0,1425.2 518.8,1401.2 523.6,1380.8 530.8,1367.6 538.0,1361.6 544.0,1359.9 551.2,1362.8 558.4,1370.0 564.4,1382.0 570.4,1410.8 577.6,1462.4 583.6,1432.4 589.6,1398.8 598.0,1377.2 607.2,1371.2 614.4,1371.9 621.6,1378.4 628.8,1389.2 636.0,1410.8 642.0,1434.8 648.0,1446.3 651.6,1430.0 657.6,1410.8 664.8,1398.8 672.0,1393.5 678.0,1393.5 685.2,1398.3 692.4,1408.4 698.4,1425.2 704.4,1454.0 711.6,1458.3 717.6,1432.4 726.0,1420.4 734.4,1416.3 741.6,1419.2 748.8,1427.6 756.0,1442.0 762.0,1461.2 764.0,1466.0" fill="none" stroke="#BBD698" stroke-width="2.4" stroke-linejoin="round" stroke-linecap="butt" />
<polyline points="776.0,1466.0 778.8,1458.8 787.2,1437.2 796.8,1432.4 806.4,1437.2 814.8,1449.2 820.8,1461.2 822.0,1466.0" fill="none" stroke="#CFE3B8" stroke-width="1.6" stroke-linejoin="round" stroke-linecap="butt" />
<polyline points="380.8,1310.0 386.8,1299.2 394.0,1295.1 402.4,1292.7 409.6,1293.2 416.8,1296.8 424.0,1304.0 430.0,1316.0 434.8,1338.8 439.6,1358.0 444.9,1374.8 449.2,1348.4 452.8,1328.0 460.0,1314.8 466.0,1308.8 473.2,1306.4 481.6,1310.0 488.8,1318.4 494.8,1331.6 500.8,1348.4 504.4,1370.0 507.5,1403.1 511.6,1386.8 517.6,1358.0 523.6,1340.0 530.8,1329.2 538.0,1324.4 542.8,1323.9 550.0,1328.0 557.2,1338.8 564.4,1358.0 568.7,1382.0 572.1,1410.8 576.4,1394.0 583.6,1365.2 590.8,1347.2 600.4,1340.0 606.0,1340.0 614.4,1344.8 621.6,1354.4 628.8,1372.4 634.8,1398.8 638.9,1430.0 641.3,1448.0 644.4,1425.2 649.2,1389.2 657.6,1372.4 664.8,1367.6 670.8,1367.1 678.0,1371.2 685.2,1380.8 691.2,1396.4 697.2,1422.8 702.0,1454.0 703.7,1466.0" fill="none" stroke="#BF97C7" stroke-width="2.4" stroke-linejoin="round" stroke-linecap="butt" />
<polyline points="703.7,1466.0 708.0,1439.6 714.0,1410.8 722.4,1396.4 730.8,1393.5 739.2,1396.4 746.4,1406.0 753.6,1427.6 759.6,1454.0 762.0,1466.0" fill="none" stroke="#D8BFDE" stroke-width="1.6" stroke-linejoin="round" stroke-linecap="butt" />
<polyline points="775.0,1466.0 777.6,1439.6 786.0,1419.2 796.8,1414.4 805.2,1419.2 812.4,1427.6 818.4,1442.0 824.4,1466.0" fill="none" stroke="#D8BFDE" stroke-width="1.6" stroke-linejoin="round" stroke-linecap="butt" />
<path d="M380.8,1342.4 C387.0,1343.7 403.8,1347.4 418.0,1350.3 C432.2,1353.2 450.0,1356.8 466.0,1359.9 C482.0,1363.0 498.0,1365.9 514.0,1368.8 C530.0,1371.7 547.7,1374.8 562.0,1377.2 C576.3,1379.6 589.7,1381.4 600.0,1383.2 C610.3,1385.0 616.0,1386.0 624.0,1388.0 C632.0,1390.0 640.0,1392.6 648.0,1395.2 C656.0,1397.8 664.0,1400.8 672.0,1403.6 C680.0,1406.4 688.0,1408.8 696.0,1412.0 C704.0,1415.2 712.0,1419.6 720.0,1422.8 C728.0,1426.0 736.0,1428.6 744.0,1431.2 C752.0,1433.8 760.0,1436.2 768.0,1438.4 C776.0,1440.6 784.0,1442.4 792.0,1444.4 C800.0,1446.4 808.2,1448.2 816.0,1450.4 C823.8,1452.6 835.2,1456.6 839.0,1457.8" fill="none" stroke="#77AC30" stroke-width="4.5" stroke-linejoin="round" />
<path d="M380.8,1302.8 C387.0,1303.8 403.8,1306.2 418.0,1308.8 C432.2,1311.4 450.0,1315.0 466.0,1318.4 C482.0,1321.8 498.0,1325.4 514.0,1329.2 C530.0,1333.0 546.0,1336.6 562.0,1341.2 C578.0,1345.8 599.7,1353.4 610.0,1356.8 C620.3,1360.2 617.7,1359.0 624.0,1361.6 C630.3,1364.2 640.0,1369.0 648.0,1372.4 C656.0,1375.8 664.0,1378.9 672.0,1382.0 C680.0,1385.1 688.0,1387.9 696.0,1391.1 C704.0,1394.3 712.0,1398.1 720.0,1401.2 C728.0,1404.3 736.0,1406.9 744.0,1409.6 C752.0,1412.3 760.0,1414.7 768.0,1417.5 C776.0,1420.3 784.8,1423.5 792.0,1426.4 C799.2,1429.3 805.6,1432.0 811.2,1434.8 C816.8,1437.6 821.0,1440.1 825.6,1443.2 C830.2,1446.3 836.8,1451.8 839.0,1453.5" fill="none" stroke="#7E2F8E" stroke-width="4.5" stroke-linejoin="round" />
</g>
<line x1="134.50" y1="1533.60" x2="838.60" y2="1533.60" stroke="#808080" stroke-width="6.3" />
<path d="M380.8,1609.4 C387.7,1609.4 407.3,1609.1 422.0,1609.4 C436.7,1609.7 455.3,1610.7 469.0,1611.3 C482.7,1611.9 492.6,1612.2 504.3,1612.9 C516.0,1613.6 527.8,1614.8 539.5,1615.3 C551.2,1615.8 563.9,1615.6 574.8,1615.7 C585.7,1615.8 596.0,1615.8 605.0,1615.7 C614.0,1615.6 620.7,1615.9 628.5,1615.3 C636.3,1614.7 644.2,1613.0 652.0,1612.2 C659.8,1611.4 667.7,1610.9 675.5,1610.6 C683.3,1610.3 691.2,1610.3 699.0,1610.3 C706.8,1610.3 714.7,1610.3 722.5,1610.6 C730.3,1610.8 738.2,1611.4 746.0,1611.8 C753.8,1612.2 761.7,1612.5 769.5,1612.9 C777.3,1613.3 786.0,1613.6 793.0,1614.1 C800.0,1614.6 806.3,1615.2 811.8,1616.0 C817.3,1616.8 821.5,1617.6 826.0,1618.8 C830.5,1620.0 836.5,1622.5 838.6,1623.3" fill="none" stroke="#0072BD" stroke-width="4.5" stroke-linejoin="round" />
<path d="M380.8,1562.5 C382.7,1562.5 387.3,1562.4 392.0,1562.2 C396.7,1562.0 403.3,1561.7 409.0,1561.3 C414.7,1560.9 420.3,1560.2 426.0,1559.6 C431.7,1558.9 437.3,1558.2 443.0,1557.4 C448.7,1556.6 454.3,1555.8 460.0,1554.9 C465.7,1554.0 471.3,1553.1 477.0,1552.0 C482.7,1550.9 488.3,1549.3 494.0,1548.1 C499.7,1546.9 505.3,1545.8 511.0,1544.7 C516.7,1543.7 522.3,1542.8 528.0,1541.8 C533.7,1540.8 540.3,1539.4 545.0,1538.7 C549.7,1538.0 551.5,1538.6 556.0,1537.8 C560.5,1537.0 567.2,1535.3 572.0,1534.1 C576.8,1532.9 580.0,1531.6 584.8,1530.6 C589.6,1529.6 595.5,1528.7 600.8,1528.2 C606.1,1527.7 611.5,1527.4 616.8,1527.4 C622.1,1527.4 627.5,1527.6 632.8,1528.2 C638.1,1528.8 644.0,1530.0 648.8,1530.9 C653.6,1531.8 657.3,1533.1 661.6,1533.5 C665.9,1533.9 669.7,1533.6 674.4,1533.5 C679.1,1533.4 684.9,1533.3 690.0,1532.7 C695.1,1532.1 700.0,1530.7 705.0,1529.7 C710.0,1528.7 715.0,1527.7 720.0,1526.7 C725.0,1525.7 730.0,1524.7 735.0,1523.7 C740.0,1522.7 745.0,1521.6 750.0,1520.7 C755.0,1519.8 760.0,1519.2 765.0,1518.5 C770.0,1517.8 775.0,1517.1 780.0,1516.7 C785.0,1516.3 790.0,1516.1 795.0,1516.0 C800.0,1515.9 805.5,1516.0 810.0,1516.2 C814.5,1516.4 818.5,1516.8 822.0,1517.3 C825.5,1517.8 828.2,1518.4 831.0,1519.2 C833.8,1520.0 837.3,1521.7 838.6,1522.2" fill="none" stroke="#D95319" stroke-width="4.5" stroke-linejoin="round" />
<line x1="380.80" y1="1625.60" x2="838.60" y2="1625.60" stroke="#EDB120" stroke-width="4.5" />
<line x1="134.50" y1="1625.60" x2="838.60" y2="1625.60" stroke="#000" stroke-width="2.0" stroke-dasharray="26.6 15.7"/>
<line x1="204.91" y1="50.50" x2="204.91" y2="57.50" stroke="#222222" stroke-width="1.5" />
<line x1="204.91" y1="225.40" x2="204.91" y2="218.40" stroke="#222222" stroke-width="1.5" />
<line x1="275.32" y1="50.50" x2="275.32" y2="57.50" stroke="#222222" stroke-width="1.5" />
<line x1="275.32" y1="225.40" x2="275.32" y2="218.40" stroke="#222222" stroke-width="1.5" />
<line x1="345.73" y1="50.50" x2="345.73" y2="57.50" stroke="#222222" stroke-width="1.5" />
<line x1="345.73" y1="225.40" x2="345.73" y2="218.40" stroke="#222222" stroke-width="1.5" />
<line x1="416.14" y1="50.50" x2="416.14" y2="57.50" stroke="#222222" stroke-width="1.5" />
<line x1="416.14" y1="225.40" x2="416.14" y2="218.40" stroke="#222222" stroke-width="1.5" />
<line x1="486.55" y1="50.50" x2="486.55" y2="57.50" stroke="#222222" stroke-width="1.5" />
<line x1="486.55" y1="225.40" x2="486.55" y2="218.40" stroke="#222222" stroke-width="1.5" />
<line x1="556.96" y1="50.50" x2="556.96" y2="57.50" stroke="#222222" stroke-width="1.5" />
<line x1="556.96" y1="225.40" x2="556.96" y2="218.40" stroke="#222222" stroke-width="1.5" />
<line x1="627.37" y1="50.50" x2="627.37" y2="57.50" stroke="#222222" stroke-width="1.5" />
<line x1="627.37" y1="225.40" x2="627.37" y2="218.40" stroke="#222222" stroke-width="1.5" />
<line x1="697.78" y1="50.50" x2="697.78" y2="57.50" stroke="#222222" stroke-width="1.5" />
<line x1="697.78" y1="225.40" x2="697.78" y2="218.40" stroke="#222222" stroke-width="1.5" />
<line x1="768.19" y1="50.50" x2="768.19" y2="57.50" stroke="#222222" stroke-width="1.5" />
<line x1="768.19" y1="225.40" x2="768.19" y2="218.40" stroke="#222222" stroke-width="1.5" />
<line x1="134.50" y1="153.05" x2="141.50" y2="153.05" stroke="#222222" stroke-width="1.5" />
<line x1="838.60" y1="153.05" x2="831.60" y2="153.05" stroke="#222222" stroke-width="1.5" />
<line x1="134.50" y1="113.38" x2="139.00" y2="113.38" stroke="#222222" stroke-width="1.5" />
<line x1="838.60" y1="113.38" x2="834.10" y2="113.38" stroke="#222222" stroke-width="1.5" />
<line x1="134.50" y1="192.72" x2="139.00" y2="192.72" stroke="#222222" stroke-width="1.5" />
<line x1="838.60" y1="192.72" x2="834.10" y2="192.72" stroke="#222222" stroke-width="1.5" />
<line x1="134.50" y1="100.61" x2="139.00" y2="100.61" stroke="#222222" stroke-width="1.5" />
<line x1="838.60" y1="100.61" x2="834.10" y2="100.61" stroke="#222222" stroke-width="1.5" />
<line x1="134.50" y1="205.49" x2="139.00" y2="205.49" stroke="#222222" stroke-width="1.5" />
<line x1="838.60" y1="205.49" x2="834.10" y2="205.49" stroke="#222222" stroke-width="1.5" />
<line x1="134.50" y1="90.17" x2="139.00" y2="90.17" stroke="#222222" stroke-width="1.5" />
<line x1="838.60" y1="90.17" x2="834.10" y2="90.17" stroke="#222222" stroke-width="1.5" />
<line x1="134.50" y1="215.93" x2="139.00" y2="215.93" stroke="#222222" stroke-width="1.5" />
<line x1="838.60" y1="215.93" x2="834.10" y2="215.93" stroke="#222222" stroke-width="1.5" />
<line x1="134.50" y1="81.35" x2="139.00" y2="81.35" stroke="#222222" stroke-width="1.5" />
<line x1="838.60" y1="81.35" x2="834.10" y2="81.35" stroke="#222222" stroke-width="1.5" />
<line x1="134.50" y1="224.75" x2="139.00" y2="224.75" stroke="#222222" stroke-width="1.5" />
<line x1="838.60" y1="224.75" x2="834.10" y2="224.75" stroke="#222222" stroke-width="1.5" />
<line x1="134.50" y1="73.71" x2="139.00" y2="73.71" stroke="#222222" stroke-width="1.5" />
<line x1="838.60" y1="73.71" x2="834.10" y2="73.71" stroke="#222222" stroke-width="1.5" />
<line x1="134.50" y1="66.97" x2="139.00" y2="66.97" stroke="#222222" stroke-width="1.5" />
<line x1="838.60" y1="66.97" x2="834.10" y2="66.97" stroke="#222222" stroke-width="1.5" />
<line x1="134.50" y1="60.94" x2="139.00" y2="60.94" stroke="#222222" stroke-width="1.5" />
<line x1="838.60" y1="60.94" x2="834.10" y2="60.94" stroke="#222222" stroke-width="1.5" />
<line x1="134.50" y1="55.48" x2="139.00" y2="55.48" stroke="#222222" stroke-width="1.5" />
<line x1="838.60" y1="55.48" x2="834.10" y2="55.48" stroke="#222222" stroke-width="1.5" />
<line x1="204.91" y1="225.40" x2="204.91" y2="232.40" stroke="#222222" stroke-width="1.5" />
<line x1="204.91" y1="403.50" x2="204.91" y2="396.50" stroke="#222222" stroke-width="1.5" />
<line x1="275.32" y1="225.40" x2="275.32" y2="232.40" stroke="#222222" stroke-width="1.5" />
<line x1="275.32" y1="403.50" x2="275.32" y2="396.50" stroke="#222222" stroke-width="1.5" />
<line x1="345.73" y1="225.40" x2="345.73" y2="232.40" stroke="#222222" stroke-width="1.5" />
<line x1="345.73" y1="403.50" x2="345.73" y2="396.50" stroke="#222222" stroke-width="1.5" />
<line x1="416.14" y1="225.40" x2="416.14" y2="232.40" stroke="#222222" stroke-width="1.5" />
<line x1="416.14" y1="403.50" x2="416.14" y2="396.50" stroke="#222222" stroke-width="1.5" />
<line x1="486.55" y1="225.40" x2="486.55" y2="232.40" stroke="#222222" stroke-width="1.5" />
<line x1="486.55" y1="403.50" x2="486.55" y2="396.50" stroke="#222222" stroke-width="1.5" />
<line x1="556.96" y1="225.40" x2="556.96" y2="232.40" stroke="#222222" stroke-width="1.5" />
<line x1="556.96" y1="403.50" x2="556.96" y2="396.50" stroke="#222222" stroke-width="1.5" />
<line x1="627.37" y1="225.40" x2="627.37" y2="232.40" stroke="#222222" stroke-width="1.5" />
<line x1="627.37" y1="403.50" x2="627.37" y2="396.50" stroke="#222222" stroke-width="1.5" />
<line x1="697.78" y1="225.40" x2="697.78" y2="232.40" stroke="#222222" stroke-width="1.5" />
<line x1="697.78" y1="403.50" x2="697.78" y2="396.50" stroke="#222222" stroke-width="1.5" />
<line x1="768.19" y1="225.40" x2="768.19" y2="232.40" stroke="#222222" stroke-width="1.5" />
<line x1="768.19" y1="403.50" x2="768.19" y2="396.50" stroke="#222222" stroke-width="1.5" />
<line x1="134.50" y1="254.60" x2="141.50" y2="254.60" stroke="#222222" stroke-width="1.5" />
<line x1="838.60" y1="254.60" x2="831.60" y2="254.60" stroke="#222222" stroke-width="1.5" />
<line x1="134.50" y1="314.00" x2="141.50" y2="314.00" stroke="#222222" stroke-width="1.5" />
<line x1="838.60" y1="314.00" x2="831.60" y2="314.00" stroke="#222222" stroke-width="1.5" />
<line x1="134.50" y1="373.40" x2="141.50" y2="373.40" stroke="#222222" stroke-width="1.5" />
<line x1="838.60" y1="373.40" x2="831.60" y2="373.40" stroke="#222222" stroke-width="1.5" />
<line x1="204.91" y1="403.50" x2="204.91" y2="410.50" stroke="#222222" stroke-width="1.5" />
<line x1="204.91" y1="578.60" x2="204.91" y2="571.60" stroke="#222222" stroke-width="1.5" />
<line x1="275.32" y1="403.50" x2="275.32" y2="410.50" stroke="#222222" stroke-width="1.5" />
<line x1="275.32" y1="578.60" x2="275.32" y2="571.60" stroke="#222222" stroke-width="1.5" />
<line x1="345.73" y1="403.50" x2="345.73" y2="410.50" stroke="#222222" stroke-width="1.5" />
<line x1="345.73" y1="578.60" x2="345.73" y2="571.60" stroke="#222222" stroke-width="1.5" />
<line x1="416.14" y1="403.50" x2="416.14" y2="410.50" stroke="#222222" stroke-width="1.5" />
<line x1="416.14" y1="578.60" x2="416.14" y2="571.60" stroke="#222222" stroke-width="1.5" />
<line x1="486.55" y1="403.50" x2="486.55" y2="410.50" stroke="#222222" stroke-width="1.5" />
<line x1="486.55" y1="578.60" x2="486.55" y2="571.60" stroke="#222222" stroke-width="1.5" />
<line x1="556.96" y1="403.50" x2="556.96" y2="410.50" stroke="#222222" stroke-width="1.5" />
<line x1="556.96" y1="578.60" x2="556.96" y2="571.60" stroke="#222222" stroke-width="1.5" />
<line x1="627.37" y1="403.50" x2="627.37" y2="410.50" stroke="#222222" stroke-width="1.5" />
<line x1="627.37" y1="578.60" x2="627.37" y2="571.60" stroke="#222222" stroke-width="1.5" />
<line x1="697.78" y1="403.50" x2="697.78" y2="410.50" stroke="#222222" stroke-width="1.5" />
<line x1="697.78" y1="578.60" x2="697.78" y2="571.60" stroke="#222222" stroke-width="1.5" />
<line x1="768.19" y1="403.50" x2="768.19" y2="410.50" stroke="#222222" stroke-width="1.5" />
<line x1="768.19" y1="578.60" x2="768.19" y2="571.60" stroke="#222222" stroke-width="1.5" />
<line x1="134.50" y1="486.20" x2="141.50" y2="486.20" stroke="#222222" stroke-width="1.5" />
<line x1="838.60" y1="486.20" x2="831.60" y2="486.20" stroke="#222222" stroke-width="1.5" />
<line x1="134.50" y1="452.20" x2="141.50" y2="452.20" stroke="#222222" stroke-width="1.5" />
<line x1="838.60" y1="452.20" x2="831.60" y2="452.20" stroke="#222222" stroke-width="1.5" />
<line x1="134.50" y1="520.20" x2="141.50" y2="520.20" stroke="#222222" stroke-width="1.5" />
<line x1="838.60" y1="520.20" x2="831.60" y2="520.20" stroke="#222222" stroke-width="1.5" />
<line x1="134.50" y1="568.19" x2="141.50" y2="568.19" stroke="#222222" stroke-width="1.5" />
<line x1="838.60" y1="568.19" x2="831.60" y2="568.19" stroke="#222222" stroke-width="1.5" />
<line x1="134.50" y1="474.36" x2="139.00" y2="474.36" stroke="#222222" stroke-width="1.5" />
<line x1="838.60" y1="474.36" x2="834.10" y2="474.36" stroke="#222222" stroke-width="1.5" />
<line x1="134.50" y1="498.04" x2="139.00" y2="498.04" stroke="#222222" stroke-width="1.5" />
<line x1="838.60" y1="498.04" x2="834.10" y2="498.04" stroke="#222222" stroke-width="1.5" />
<line x1="134.50" y1="470.13" x2="139.00" y2="470.13" stroke="#222222" stroke-width="1.5" />
<line x1="838.60" y1="470.13" x2="834.10" y2="470.13" stroke="#222222" stroke-width="1.5" />
<line x1="134.50" y1="502.27" x2="139.00" y2="502.27" stroke="#222222" stroke-width="1.5" />
<line x1="838.60" y1="502.27" x2="834.10" y2="502.27" stroke="#222222" stroke-width="1.5" />
<line x1="134.50" y1="466.55" x2="139.00" y2="466.55" stroke="#222222" stroke-width="1.5" />
<line x1="838.60" y1="466.55" x2="834.10" y2="466.55" stroke="#222222" stroke-width="1.5" />
<line x1="134.50" y1="505.85" x2="139.00" y2="505.85" stroke="#222222" stroke-width="1.5" />
<line x1="838.60" y1="505.85" x2="834.10" y2="505.85" stroke="#222222" stroke-width="1.5" />
<line x1="134.50" y1="463.46" x2="139.00" y2="463.46" stroke="#222222" stroke-width="1.5" />
<line x1="838.60" y1="463.46" x2="834.10" y2="463.46" stroke="#222222" stroke-width="1.5" />
<line x1="134.50" y1="508.94" x2="139.00" y2="508.94" stroke="#222222" stroke-width="1.5" />
<line x1="838.60" y1="508.94" x2="834.10" y2="508.94" stroke="#222222" stroke-width="1.5" />
<line x1="134.50" y1="460.73" x2="139.00" y2="460.73" stroke="#222222" stroke-width="1.5" />
<line x1="838.60" y1="460.73" x2="834.10" y2="460.73" stroke="#222222" stroke-width="1.5" />
<line x1="134.50" y1="511.67" x2="139.00" y2="511.67" stroke="#222222" stroke-width="1.5" />
<line x1="838.60" y1="511.67" x2="834.10" y2="511.67" stroke="#222222" stroke-width="1.5" />
<line x1="134.50" y1="458.28" x2="139.00" y2="458.28" stroke="#222222" stroke-width="1.5" />
<line x1="838.60" y1="458.28" x2="834.10" y2="458.28" stroke="#222222" stroke-width="1.5" />
<line x1="134.50" y1="514.12" x2="139.00" y2="514.12" stroke="#222222" stroke-width="1.5" />
<line x1="838.60" y1="514.12" x2="834.10" y2="514.12" stroke="#222222" stroke-width="1.5" />
<line x1="134.50" y1="456.07" x2="139.00" y2="456.07" stroke="#222222" stroke-width="1.5" />
<line x1="838.60" y1="456.07" x2="834.10" y2="456.07" stroke="#222222" stroke-width="1.5" />
<line x1="134.50" y1="516.33" x2="139.00" y2="516.33" stroke="#222222" stroke-width="1.5" />
<line x1="838.60" y1="516.33" x2="834.10" y2="516.33" stroke="#222222" stroke-width="1.5" />
<line x1="134.50" y1="454.06" x2="139.00" y2="454.06" stroke="#222222" stroke-width="1.5" />
<line x1="838.60" y1="454.06" x2="834.10" y2="454.06" stroke="#222222" stroke-width="1.5" />
<line x1="134.50" y1="518.34" x2="139.00" y2="518.34" stroke="#222222" stroke-width="1.5" />
<line x1="838.60" y1="518.34" x2="834.10" y2="518.34" stroke="#222222" stroke-width="1.5" />
<line x1="134.50" y1="438.97" x2="139.00" y2="438.97" stroke="#222222" stroke-width="1.5" />
<line x1="838.60" y1="438.97" x2="834.10" y2="438.97" stroke="#222222" stroke-width="1.5" />
<line x1="134.50" y1="533.43" x2="139.00" y2="533.43" stroke="#222222" stroke-width="1.5" />
<line x1="838.60" y1="533.43" x2="834.10" y2="533.43" stroke="#222222" stroke-width="1.5" />
<line x1="134.50" y1="430.60" x2="139.00" y2="430.60" stroke="#222222" stroke-width="1.5" />
<line x1="838.60" y1="430.60" x2="834.10" y2="430.60" stroke="#222222" stroke-width="1.5" />
<line x1="134.50" y1="541.80" x2="139.00" y2="541.80" stroke="#222222" stroke-width="1.5" />
<line x1="838.60" y1="541.80" x2="834.10" y2="541.80" stroke="#222222" stroke-width="1.5" />
<line x1="134.50" y1="424.46" x2="139.00" y2="424.46" stroke="#222222" stroke-width="1.5" />
<line x1="838.60" y1="424.46" x2="834.10" y2="424.46" stroke="#222222" stroke-width="1.5" />
<line x1="134.50" y1="547.94" x2="139.00" y2="547.94" stroke="#222222" stroke-width="1.5" />
<line x1="838.60" y1="547.94" x2="834.10" y2="547.94" stroke="#222222" stroke-width="1.5" />
<line x1="134.50" y1="419.61" x2="139.00" y2="419.61" stroke="#222222" stroke-width="1.5" />
<line x1="838.60" y1="419.61" x2="834.10" y2="419.61" stroke="#222222" stroke-width="1.5" />
<line x1="134.50" y1="552.79" x2="139.00" y2="552.79" stroke="#222222" stroke-width="1.5" />
<line x1="838.60" y1="552.79" x2="834.10" y2="552.79" stroke="#222222" stroke-width="1.5" />
<line x1="134.50" y1="415.61" x2="139.00" y2="415.61" stroke="#222222" stroke-width="1.5" />
<line x1="838.60" y1="415.61" x2="834.10" y2="415.61" stroke="#222222" stroke-width="1.5" />
<line x1="134.50" y1="556.79" x2="139.00" y2="556.79" stroke="#222222" stroke-width="1.5" />
<line x1="838.60" y1="556.79" x2="834.10" y2="556.79" stroke="#222222" stroke-width="1.5" />
<line x1="134.50" y1="412.19" x2="139.00" y2="412.19" stroke="#222222" stroke-width="1.5" />
<line x1="838.60" y1="412.19" x2="834.10" y2="412.19" stroke="#222222" stroke-width="1.5" />
<line x1="134.50" y1="560.21" x2="139.00" y2="560.21" stroke="#222222" stroke-width="1.5" />
<line x1="838.60" y1="560.21" x2="834.10" y2="560.21" stroke="#222222" stroke-width="1.5" />
<line x1="134.50" y1="409.21" x2="139.00" y2="409.21" stroke="#222222" stroke-width="1.5" />
<line x1="838.60" y1="409.21" x2="834.10" y2="409.21" stroke="#222222" stroke-width="1.5" />
<line x1="134.50" y1="563.19" x2="139.00" y2="563.19" stroke="#222222" stroke-width="1.5" />
<line x1="838.60" y1="563.19" x2="834.10" y2="563.19" stroke="#222222" stroke-width="1.5" />
<line x1="134.50" y1="406.58" x2="139.00" y2="406.58" stroke="#222222" stroke-width="1.5" />
<line x1="838.60" y1="406.58" x2="834.10" y2="406.58" stroke="#222222" stroke-width="1.5" />
<line x1="134.50" y1="565.82" x2="139.00" y2="565.82" stroke="#222222" stroke-width="1.5" />
<line x1="838.60" y1="565.82" x2="834.10" y2="565.82" stroke="#222222" stroke-width="1.5" />
<line x1="204.91" y1="578.60" x2="204.91" y2="585.60" stroke="#222222" stroke-width="1.5" />
<line x1="204.91" y1="757.00" x2="204.91" y2="750.00" stroke="#222222" stroke-width="1.5" />
<line x1="275.32" y1="578.60" x2="275.32" y2="585.60" stroke="#222222" stroke-width="1.5" />
<line x1="275.32" y1="757.00" x2="275.32" y2="750.00" stroke="#222222" stroke-width="1.5" />
<line x1="345.73" y1="578.60" x2="345.73" y2="585.60" stroke="#222222" stroke-width="1.5" />
<line x1="345.73" y1="757.00" x2="345.73" y2="750.00" stroke="#222222" stroke-width="1.5" />
<line x1="416.14" y1="578.60" x2="416.14" y2="585.60" stroke="#222222" stroke-width="1.5" />
<line x1="416.14" y1="757.00" x2="416.14" y2="750.00" stroke="#222222" stroke-width="1.5" />
<line x1="486.55" y1="578.60" x2="486.55" y2="585.60" stroke="#222222" stroke-width="1.5" />
<line x1="486.55" y1="757.00" x2="486.55" y2="750.00" stroke="#222222" stroke-width="1.5" />
<line x1="556.96" y1="578.60" x2="556.96" y2="585.60" stroke="#222222" stroke-width="1.5" />
<line x1="556.96" y1="757.00" x2="556.96" y2="750.00" stroke="#222222" stroke-width="1.5" />
<line x1="627.37" y1="578.60" x2="627.37" y2="585.60" stroke="#222222" stroke-width="1.5" />
<line x1="627.37" y1="757.00" x2="627.37" y2="750.00" stroke="#222222" stroke-width="1.5" />
<line x1="697.78" y1="578.60" x2="697.78" y2="585.60" stroke="#222222" stroke-width="1.5" />
<line x1="697.78" y1="757.00" x2="697.78" y2="750.00" stroke="#222222" stroke-width="1.5" />
<line x1="768.19" y1="578.60" x2="768.19" y2="585.60" stroke="#222222" stroke-width="1.5" />
<line x1="768.19" y1="757.00" x2="768.19" y2="750.00" stroke="#222222" stroke-width="1.5" />
<line x1="134.50" y1="608.10" x2="141.50" y2="608.10" stroke="#222222" stroke-width="1.5" />
<line x1="838.60" y1="608.10" x2="831.60" y2="608.10" stroke="#222222" stroke-width="1.5" />
<line x1="134.50" y1="667.60" x2="141.50" y2="667.60" stroke="#222222" stroke-width="1.5" />
<line x1="838.60" y1="667.60" x2="831.60" y2="667.60" stroke="#222222" stroke-width="1.5" />
<line x1="134.50" y1="727.10" x2="141.50" y2="727.10" stroke="#222222" stroke-width="1.5" />
<line x1="838.60" y1="727.10" x2="831.60" y2="727.10" stroke="#222222" stroke-width="1.5" />
<line x1="204.91" y1="757.00" x2="204.91" y2="764.00" stroke="#222222" stroke-width="1.5" />
<line x1="204.91" y1="932.30" x2="204.91" y2="925.30" stroke="#222222" stroke-width="1.5" />
<line x1="275.32" y1="757.00" x2="275.32" y2="764.00" stroke="#222222" stroke-width="1.5" />
<line x1="275.32" y1="932.30" x2="275.32" y2="925.30" stroke="#222222" stroke-width="1.5" />
<line x1="345.73" y1="757.00" x2="345.73" y2="764.00" stroke="#222222" stroke-width="1.5" />
<line x1="345.73" y1="932.30" x2="345.73" y2="925.30" stroke="#222222" stroke-width="1.5" />
<line x1="416.14" y1="757.00" x2="416.14" y2="764.00" stroke="#222222" stroke-width="1.5" />
<line x1="416.14" y1="932.30" x2="416.14" y2="925.30" stroke="#222222" stroke-width="1.5" />
<line x1="486.55" y1="757.00" x2="486.55" y2="764.00" stroke="#222222" stroke-width="1.5" />
<line x1="486.55" y1="932.30" x2="486.55" y2="925.30" stroke="#222222" stroke-width="1.5" />
<line x1="556.96" y1="757.00" x2="556.96" y2="764.00" stroke="#222222" stroke-width="1.5" />
<line x1="556.96" y1="932.30" x2="556.96" y2="925.30" stroke="#222222" stroke-width="1.5" />
<line x1="627.37" y1="757.00" x2="627.37" y2="764.00" stroke="#222222" stroke-width="1.5" />
<line x1="627.37" y1="932.30" x2="627.37" y2="925.30" stroke="#222222" stroke-width="1.5" />
<line x1="697.78" y1="757.00" x2="697.78" y2="764.00" stroke="#222222" stroke-width="1.5" />
<line x1="697.78" y1="932.30" x2="697.78" y2="925.30" stroke="#222222" stroke-width="1.5" />
<line x1="768.19" y1="757.00" x2="768.19" y2="764.00" stroke="#222222" stroke-width="1.5" />
<line x1="768.19" y1="932.30" x2="768.19" y2="925.30" stroke="#222222" stroke-width="1.5" />
<line x1="134.50" y1="844.60" x2="141.50" y2="844.60" stroke="#222222" stroke-width="1.5" />
<line x1="838.60" y1="844.60" x2="831.60" y2="844.60" stroke="#222222" stroke-width="1.5" />
<line x1="134.50" y1="810.90" x2="141.50" y2="810.90" stroke="#222222" stroke-width="1.5" />
<line x1="838.60" y1="810.90" x2="831.60" y2="810.90" stroke="#222222" stroke-width="1.5" />
<line x1="134.50" y1="878.30" x2="141.50" y2="878.30" stroke="#222222" stroke-width="1.5" />
<line x1="838.60" y1="878.30" x2="831.60" y2="878.30" stroke="#222222" stroke-width="1.5" />
<line x1="134.50" y1="770.65" x2="141.50" y2="770.65" stroke="#222222" stroke-width="1.5" />
<line x1="838.60" y1="770.65" x2="831.60" y2="770.65" stroke="#222222" stroke-width="1.5" />
<line x1="134.50" y1="918.55" x2="141.50" y2="918.55" stroke="#222222" stroke-width="1.5" />
<line x1="838.60" y1="918.55" x2="831.60" y2="918.55" stroke="#222222" stroke-width="1.5" />
<line x1="134.50" y1="831.56" x2="139.00" y2="831.56" stroke="#222222" stroke-width="1.5" />
<line x1="838.60" y1="831.56" x2="834.10" y2="831.56" stroke="#222222" stroke-width="1.5" />
<line x1="134.50" y1="857.64" x2="139.00" y2="857.64" stroke="#222222" stroke-width="1.5" />
<line x1="838.60" y1="857.64" x2="834.10" y2="857.64" stroke="#222222" stroke-width="1.5" />
<line x1="134.50" y1="827.37" x2="139.00" y2="827.37" stroke="#222222" stroke-width="1.5" />
<line x1="838.60" y1="827.37" x2="834.10" y2="827.37" stroke="#222222" stroke-width="1.5" />
<line x1="134.50" y1="861.83" x2="139.00" y2="861.83" stroke="#222222" stroke-width="1.5" />
<line x1="838.60" y1="861.83" x2="834.10" y2="861.83" stroke="#222222" stroke-width="1.5" />
<line x1="134.50" y1="823.94" x2="139.00" y2="823.94" stroke="#222222" stroke-width="1.5" />
<line x1="838.60" y1="823.94" x2="834.10" y2="823.94" stroke="#222222" stroke-width="1.5" />
<line x1="134.50" y1="865.26" x2="139.00" y2="865.26" stroke="#222222" stroke-width="1.5" />
<line x1="838.60" y1="865.26" x2="834.10" y2="865.26" stroke="#222222" stroke-width="1.5" />
<line x1="134.50" y1="821.04" x2="139.00" y2="821.04" stroke="#222222" stroke-width="1.5" />
<line x1="838.60" y1="821.04" x2="834.10" y2="821.04" stroke="#222222" stroke-width="1.5" />
<line x1="134.50" y1="868.16" x2="139.00" y2="868.16" stroke="#222222" stroke-width="1.5" />
<line x1="838.60" y1="868.16" x2="834.10" y2="868.16" stroke="#222222" stroke-width="1.5" />
<line x1="134.50" y1="818.53" x2="139.00" y2="818.53" stroke="#222222" stroke-width="1.5" />
<line x1="838.60" y1="818.53" x2="834.10" y2="818.53" stroke="#222222" stroke-width="1.5" />
<line x1="134.50" y1="870.67" x2="139.00" y2="870.67" stroke="#222222" stroke-width="1.5" />
<line x1="838.60" y1="870.67" x2="834.10" y2="870.67" stroke="#222222" stroke-width="1.5" />
<line x1="134.50" y1="816.31" x2="139.00" y2="816.31" stroke="#222222" stroke-width="1.5" />
<line x1="838.60" y1="816.31" x2="834.10" y2="816.31" stroke="#222222" stroke-width="1.5" />
<line x1="134.50" y1="872.89" x2="139.00" y2="872.89" stroke="#222222" stroke-width="1.5" />
<line x1="838.60" y1="872.89" x2="834.10" y2="872.89" stroke="#222222" stroke-width="1.5" />
<line x1="134.50" y1="814.33" x2="139.00" y2="814.33" stroke="#222222" stroke-width="1.5" />
<line x1="838.60" y1="814.33" x2="834.10" y2="814.33" stroke="#222222" stroke-width="1.5" />
<line x1="134.50" y1="874.87" x2="139.00" y2="874.87" stroke="#222222" stroke-width="1.5" />
<line x1="838.60" y1="874.87" x2="834.10" y2="874.87" stroke="#222222" stroke-width="1.5" />
<line x1="134.50" y1="812.54" x2="139.00" y2="812.54" stroke="#222222" stroke-width="1.5" />
<line x1="838.60" y1="812.54" x2="834.10" y2="812.54" stroke="#222222" stroke-width="1.5" />
<line x1="134.50" y1="876.66" x2="139.00" y2="876.66" stroke="#222222" stroke-width="1.5" />
<line x1="838.60" y1="876.66" x2="834.10" y2="876.66" stroke="#222222" stroke-width="1.5" />
<line x1="134.50" y1="799.50" x2="139.00" y2="799.50" stroke="#222222" stroke-width="1.5" />
<line x1="838.60" y1="799.50" x2="834.10" y2="799.50" stroke="#222222" stroke-width="1.5" />
<line x1="134.50" y1="889.70" x2="139.00" y2="889.70" stroke="#222222" stroke-width="1.5" />
<line x1="838.60" y1="889.70" x2="834.10" y2="889.70" stroke="#222222" stroke-width="1.5" />
<line x1="134.50" y1="792.45" x2="139.00" y2="792.45" stroke="#222222" stroke-width="1.5" />
<line x1="838.60" y1="792.45" x2="834.10" y2="792.45" stroke="#222222" stroke-width="1.5" />
<line x1="134.50" y1="896.75" x2="139.00" y2="896.75" stroke="#222222" stroke-width="1.5" />
<line x1="838.60" y1="896.75" x2="834.10" y2="896.75" stroke="#222222" stroke-width="1.5" />
<line x1="134.50" y1="787.34" x2="139.00" y2="787.34" stroke="#222222" stroke-width="1.5" />
<line x1="838.60" y1="787.34" x2="834.10" y2="787.34" stroke="#222222" stroke-width="1.5" />
<line x1="134.50" y1="901.86" x2="139.00" y2="901.86" stroke="#222222" stroke-width="1.5" />
<line x1="838.60" y1="901.86" x2="834.10" y2="901.86" stroke="#222222" stroke-width="1.5" />
<line x1="134.50" y1="783.32" x2="139.00" y2="783.32" stroke="#222222" stroke-width="1.5" />
<line x1="838.60" y1="783.32" x2="834.10" y2="783.32" stroke="#222222" stroke-width="1.5" />
<line x1="134.50" y1="905.88" x2="139.00" y2="905.88" stroke="#222222" stroke-width="1.5" />
<line x1="838.60" y1="905.88" x2="834.10" y2="905.88" stroke="#222222" stroke-width="1.5" />
<line x1="134.50" y1="780.01" x2="139.00" y2="780.01" stroke="#222222" stroke-width="1.5" />
<line x1="838.60" y1="780.01" x2="834.10" y2="780.01" stroke="#222222" stroke-width="1.5" />
<line x1="134.50" y1="909.19" x2="139.00" y2="909.19" stroke="#222222" stroke-width="1.5" />
<line x1="838.60" y1="909.19" x2="834.10" y2="909.19" stroke="#222222" stroke-width="1.5" />
<line x1="134.50" y1="777.20" x2="139.00" y2="777.20" stroke="#222222" stroke-width="1.5" />
<line x1="838.60" y1="777.20" x2="834.10" y2="777.20" stroke="#222222" stroke-width="1.5" />
<line x1="134.50" y1="912.00" x2="139.00" y2="912.00" stroke="#222222" stroke-width="1.5" />
<line x1="838.60" y1="912.00" x2="834.10" y2="912.00" stroke="#222222" stroke-width="1.5" />
<line x1="134.50" y1="774.75" x2="139.00" y2="774.75" stroke="#222222" stroke-width="1.5" />
<line x1="838.60" y1="774.75" x2="834.10" y2="774.75" stroke="#222222" stroke-width="1.5" />
<line x1="134.50" y1="914.45" x2="139.00" y2="914.45" stroke="#222222" stroke-width="1.5" />
<line x1="838.60" y1="914.45" x2="834.10" y2="914.45" stroke="#222222" stroke-width="1.5" />
<line x1="134.50" y1="772.59" x2="139.00" y2="772.59" stroke="#222222" stroke-width="1.5" />
<line x1="838.60" y1="772.59" x2="834.10" y2="772.59" stroke="#222222" stroke-width="1.5" />
<line x1="134.50" y1="916.61" x2="139.00" y2="916.61" stroke="#222222" stroke-width="1.5" />
<line x1="838.60" y1="916.61" x2="834.10" y2="916.61" stroke="#222222" stroke-width="1.5" />
<line x1="134.50" y1="757.80" x2="139.00" y2="757.80" stroke="#222222" stroke-width="1.5" />
<line x1="838.60" y1="757.80" x2="834.10" y2="757.80" stroke="#222222" stroke-width="1.5" />
<line x1="134.50" y1="931.40" x2="139.00" y2="931.40" stroke="#222222" stroke-width="1.5" />
<line x1="838.60" y1="931.40" x2="834.10" y2="931.40" stroke="#222222" stroke-width="1.5" />
<line x1="204.91" y1="932.30" x2="204.91" y2="939.30" stroke="#222222" stroke-width="1.5" />
<line x1="204.91" y1="1110.40" x2="204.91" y2="1103.40" stroke="#222222" stroke-width="1.5" />
<line x1="275.32" y1="932.30" x2="275.32" y2="939.30" stroke="#222222" stroke-width="1.5" />
<line x1="275.32" y1="1110.40" x2="275.32" y2="1103.40" stroke="#222222" stroke-width="1.5" />
<line x1="345.73" y1="932.30" x2="345.73" y2="939.30" stroke="#222222" stroke-width="1.5" />
<line x1="345.73" y1="1110.40" x2="345.73" y2="1103.40" stroke="#222222" stroke-width="1.5" />
<line x1="416.14" y1="932.30" x2="416.14" y2="939.30" stroke="#222222" stroke-width="1.5" />
<line x1="416.14" y1="1110.40" x2="416.14" y2="1103.40" stroke="#222222" stroke-width="1.5" />
<line x1="486.55" y1="932.30" x2="486.55" y2="939.30" stroke="#222222" stroke-width="1.5" />
<line x1="486.55" y1="1110.40" x2="486.55" y2="1103.40" stroke="#222222" stroke-width="1.5" />
<line x1="556.96" y1="932.30" x2="556.96" y2="939.30" stroke="#222222" stroke-width="1.5" />
<line x1="556.96" y1="1110.40" x2="556.96" y2="1103.40" stroke="#222222" stroke-width="1.5" />
<line x1="627.37" y1="932.30" x2="627.37" y2="939.30" stroke="#222222" stroke-width="1.5" />
<line x1="627.37" y1="1110.40" x2="627.37" y2="1103.40" stroke="#222222" stroke-width="1.5" />
<line x1="697.78" y1="932.30" x2="697.78" y2="939.30" stroke="#222222" stroke-width="1.5" />
<line x1="697.78" y1="1110.40" x2="697.78" y2="1103.40" stroke="#222222" stroke-width="1.5" />
<line x1="768.19" y1="932.30" x2="768.19" y2="939.30" stroke="#222222" stroke-width="1.5" />
<line x1="768.19" y1="1110.40" x2="768.19" y2="1103.40" stroke="#222222" stroke-width="1.5" />
<line x1="134.50" y1="1020.80" x2="141.50" y2="1020.80" stroke="#222222" stroke-width="1.5" />
<line x1="838.60" y1="1020.80" x2="831.60" y2="1020.80" stroke="#222222" stroke-width="1.5" />
<line x1="204.91" y1="1110.40" x2="204.91" y2="1117.40" stroke="#222222" stroke-width="1.5" />
<line x1="204.91" y1="1286.40" x2="204.91" y2="1279.40" stroke="#222222" stroke-width="1.5" />
<line x1="275.32" y1="1110.40" x2="275.32" y2="1117.40" stroke="#222222" stroke-width="1.5" />
<line x1="275.32" y1="1286.40" x2="275.32" y2="1279.40" stroke="#222222" stroke-width="1.5" />
<line x1="345.73" y1="1110.40" x2="345.73" y2="1117.40" stroke="#222222" stroke-width="1.5" />
<line x1="345.73" y1="1286.40" x2="345.73" y2="1279.40" stroke="#222222" stroke-width="1.5" />
<line x1="416.14" y1="1110.40" x2="416.14" y2="1117.40" stroke="#222222" stroke-width="1.5" />
<line x1="416.14" y1="1286.40" x2="416.14" y2="1279.40" stroke="#222222" stroke-width="1.5" />
<line x1="486.55" y1="1110.40" x2="486.55" y2="1117.40" stroke="#222222" stroke-width="1.5" />
<line x1="486.55" y1="1286.40" x2="486.55" y2="1279.40" stroke="#222222" stroke-width="1.5" />
<line x1="556.96" y1="1110.40" x2="556.96" y2="1117.40" stroke="#222222" stroke-width="1.5" />
<line x1="556.96" y1="1286.40" x2="556.96" y2="1279.40" stroke="#222222" stroke-width="1.5" />
<line x1="627.37" y1="1110.40" x2="627.37" y2="1117.40" stroke="#222222" stroke-width="1.5" />
<line x1="627.37" y1="1286.40" x2="627.37" y2="1279.40" stroke="#222222" stroke-width="1.5" />
<line x1="697.78" y1="1110.40" x2="697.78" y2="1117.40" stroke="#222222" stroke-width="1.5" />
<line x1="697.78" y1="1286.40" x2="697.78" y2="1279.40" stroke="#222222" stroke-width="1.5" />
<line x1="768.19" y1="1110.40" x2="768.19" y2="1117.40" stroke="#222222" stroke-width="1.5" />
<line x1="768.19" y1="1286.40" x2="768.19" y2="1279.40" stroke="#222222" stroke-width="1.5" />
<line x1="134.50" y1="1168.50" x2="141.50" y2="1168.50" stroke="#222222" stroke-width="1.5" />
<line x1="838.60" y1="1168.50" x2="831.60" y2="1168.50" stroke="#222222" stroke-width="1.5" />
<line x1="134.50" y1="1226.90" x2="141.50" y2="1226.90" stroke="#222222" stroke-width="1.5" />
<line x1="838.60" y1="1226.90" x2="831.60" y2="1226.90" stroke="#222222" stroke-width="1.5" />
<line x1="204.91" y1="1286.40" x2="204.91" y2="1293.40" stroke="#222222" stroke-width="1.5" />
<line x1="204.91" y1="1464.00" x2="204.91" y2="1457.00" stroke="#222222" stroke-width="1.5" />
<line x1="275.32" y1="1286.40" x2="275.32" y2="1293.40" stroke="#222222" stroke-width="1.5" />
<line x1="275.32" y1="1464.00" x2="275.32" y2="1457.00" stroke="#222222" stroke-width="1.5" />
<line x1="345.73" y1="1286.40" x2="345.73" y2="1293.40" stroke="#222222" stroke-width="1.5" />
<line x1="345.73" y1="1464.00" x2="345.73" y2="1457.00" stroke="#222222" stroke-width="1.5" />
<line x1="416.14" y1="1286.40" x2="416.14" y2="1293.40" stroke="#222222" stroke-width="1.5" />
<line x1="416.14" y1="1464.00" x2="416.14" y2="1457.00" stroke="#222222" stroke-width="1.5" />
<line x1="486.55" y1="1286.40" x2="486.55" y2="1293.40" stroke="#222222" stroke-width="1.5" />
<line x1="486.55" y1="1464.00" x2="486.55" y2="1457.00" stroke="#222222" stroke-width="1.5" />
<line x1="556.96" y1="1286.40" x2="556.96" y2="1293.40" stroke="#222222" stroke-width="1.5" />
<line x1="556.96" y1="1464.00" x2="556.96" y2="1457.00" stroke="#222222" stroke-width="1.5" />
<line x1="627.37" y1="1286.40" x2="627.37" y2="1293.40" stroke="#222222" stroke-width="1.5" />
<line x1="627.37" y1="1464.00" x2="627.37" y2="1457.00" stroke="#222222" stroke-width="1.5" />
<line x1="697.78" y1="1286.40" x2="697.78" y2="1293.40" stroke="#222222" stroke-width="1.5" />
<line x1="697.78" y1="1464.00" x2="697.78" y2="1457.00" stroke="#222222" stroke-width="1.5" />
<line x1="768.19" y1="1286.40" x2="768.19" y2="1293.40" stroke="#222222" stroke-width="1.5" />
<line x1="768.19" y1="1464.00" x2="768.19" y2="1457.00" stroke="#222222" stroke-width="1.5" />
<line x1="134.50" y1="1375.20" x2="141.50" y2="1375.20" stroke="#222222" stroke-width="1.5" />
<line x1="838.60" y1="1375.20" x2="831.60" y2="1375.20" stroke="#222222" stroke-width="1.5" />
<line x1="134.50" y1="1450.63" x2="139.00" y2="1450.63" stroke="#222222" stroke-width="1.5" />
<line x1="838.60" y1="1450.63" x2="834.10" y2="1450.63" stroke="#222222" stroke-width="1.5" />
<line x1="134.50" y1="1442.82" x2="139.00" y2="1442.82" stroke="#222222" stroke-width="1.5" />
<line x1="838.60" y1="1442.82" x2="834.10" y2="1442.82" stroke="#222222" stroke-width="1.5" />
<line x1="134.50" y1="1437.27" x2="139.00" y2="1437.27" stroke="#222222" stroke-width="1.5" />
<line x1="838.60" y1="1437.27" x2="834.10" y2="1437.27" stroke="#222222" stroke-width="1.5" />
<line x1="134.50" y1="1432.97" x2="139.00" y2="1432.97" stroke="#222222" stroke-width="1.5" />
<line x1="838.60" y1="1432.97" x2="834.10" y2="1432.97" stroke="#222222" stroke-width="1.5" />
<line x1="134.50" y1="1429.45" x2="139.00" y2="1429.45" stroke="#222222" stroke-width="1.5" />
<line x1="838.60" y1="1429.45" x2="834.10" y2="1429.45" stroke="#222222" stroke-width="1.5" />
<line x1="134.50" y1="1426.48" x2="139.00" y2="1426.48" stroke="#222222" stroke-width="1.5" />
<line x1="838.60" y1="1426.48" x2="834.10" y2="1426.48" stroke="#222222" stroke-width="1.5" />
<line x1="134.50" y1="1423.90" x2="139.00" y2="1423.90" stroke="#222222" stroke-width="1.5" />
<line x1="838.60" y1="1423.90" x2="834.10" y2="1423.90" stroke="#222222" stroke-width="1.5" />
<line x1="134.50" y1="1421.63" x2="139.00" y2="1421.63" stroke="#222222" stroke-width="1.5" />
<line x1="838.60" y1="1421.63" x2="834.10" y2="1421.63" stroke="#222222" stroke-width="1.5" />
<line x1="134.50" y1="1406.23" x2="139.00" y2="1406.23" stroke="#222222" stroke-width="1.5" />
<line x1="838.60" y1="1406.23" x2="834.10" y2="1406.23" stroke="#222222" stroke-width="1.5" />
<line x1="134.50" y1="1398.42" x2="139.00" y2="1398.42" stroke="#222222" stroke-width="1.5" />
<line x1="838.60" y1="1398.42" x2="834.10" y2="1398.42" stroke="#222222" stroke-width="1.5" />
<line x1="134.50" y1="1392.87" x2="139.00" y2="1392.87" stroke="#222222" stroke-width="1.5" />
<line x1="838.60" y1="1392.87" x2="834.10" y2="1392.87" stroke="#222222" stroke-width="1.5" />
<line x1="134.50" y1="1388.57" x2="139.00" y2="1388.57" stroke="#222222" stroke-width="1.5" />
<line x1="838.60" y1="1388.57" x2="834.10" y2="1388.57" stroke="#222222" stroke-width="1.5" />
<line x1="134.50" y1="1385.05" x2="139.00" y2="1385.05" stroke="#222222" stroke-width="1.5" />
<line x1="838.60" y1="1385.05" x2="834.10" y2="1385.05" stroke="#222222" stroke-width="1.5" />
<line x1="134.50" y1="1382.08" x2="139.00" y2="1382.08" stroke="#222222" stroke-width="1.5" />
<line x1="838.60" y1="1382.08" x2="834.10" y2="1382.08" stroke="#222222" stroke-width="1.5" />
<line x1="134.50" y1="1379.50" x2="139.00" y2="1379.50" stroke="#222222" stroke-width="1.5" />
<line x1="838.60" y1="1379.50" x2="834.10" y2="1379.50" stroke="#222222" stroke-width="1.5" />
<line x1="134.50" y1="1377.23" x2="139.00" y2="1377.23" stroke="#222222" stroke-width="1.5" />
<line x1="838.60" y1="1377.23" x2="834.10" y2="1377.23" stroke="#222222" stroke-width="1.5" />
<line x1="134.50" y1="1361.83" x2="139.00" y2="1361.83" stroke="#222222" stroke-width="1.5" />
<line x1="838.60" y1="1361.83" x2="834.10" y2="1361.83" stroke="#222222" stroke-width="1.5" />
<line x1="134.50" y1="1354.02" x2="139.00" y2="1354.02" stroke="#222222" stroke-width="1.5" />
<line x1="838.60" y1="1354.02" x2="834.10" y2="1354.02" stroke="#222222" stroke-width="1.5" />
<line x1="134.50" y1="1348.47" x2="139.00" y2="1348.47" stroke="#222222" stroke-width="1.5" />
<line x1="838.60" y1="1348.47" x2="834.10" y2="1348.47" stroke="#222222" stroke-width="1.5" />
<line x1="134.50" y1="1344.17" x2="139.00" y2="1344.17" stroke="#222222" stroke-width="1.5" />
<line x1="838.60" y1="1344.17" x2="834.10" y2="1344.17" stroke="#222222" stroke-width="1.5" />
<line x1="134.50" y1="1340.65" x2="139.00" y2="1340.65" stroke="#222222" stroke-width="1.5" />
<line x1="838.60" y1="1340.65" x2="834.10" y2="1340.65" stroke="#222222" stroke-width="1.5" />
<line x1="134.50" y1="1337.68" x2="139.00" y2="1337.68" stroke="#222222" stroke-width="1.5" />
<line x1="838.60" y1="1337.68" x2="834.10" y2="1337.68" stroke="#222222" stroke-width="1.5" />
<line x1="134.50" y1="1335.10" x2="139.00" y2="1335.10" stroke="#222222" stroke-width="1.5" />
<line x1="838.60" y1="1335.10" x2="834.10" y2="1335.10" stroke="#222222" stroke-width="1.5" />
<line x1="134.50" y1="1332.83" x2="139.00" y2="1332.83" stroke="#222222" stroke-width="1.5" />
<line x1="838.60" y1="1332.83" x2="834.10" y2="1332.83" stroke="#222222" stroke-width="1.5" />
<line x1="134.50" y1="1317.43" x2="139.00" y2="1317.43" stroke="#222222" stroke-width="1.5" />
<line x1="838.60" y1="1317.43" x2="834.10" y2="1317.43" stroke="#222222" stroke-width="1.5" />
<line x1="134.50" y1="1309.62" x2="139.00" y2="1309.62" stroke="#222222" stroke-width="1.5" />
<line x1="838.60" y1="1309.62" x2="834.10" y2="1309.62" stroke="#222222" stroke-width="1.5" />
<line x1="134.50" y1="1304.07" x2="139.00" y2="1304.07" stroke="#222222" stroke-width="1.5" />
<line x1="838.60" y1="1304.07" x2="834.10" y2="1304.07" stroke="#222222" stroke-width="1.5" />
<line x1="134.50" y1="1299.77" x2="139.00" y2="1299.77" stroke="#222222" stroke-width="1.5" />
<line x1="838.60" y1="1299.77" x2="834.10" y2="1299.77" stroke="#222222" stroke-width="1.5" />
<line x1="134.50" y1="1296.25" x2="139.00" y2="1296.25" stroke="#222222" stroke-width="1.5" />
<line x1="838.60" y1="1296.25" x2="834.10" y2="1296.25" stroke="#222222" stroke-width="1.5" />
<line x1="134.50" y1="1293.28" x2="139.00" y2="1293.28" stroke="#222222" stroke-width="1.5" />
<line x1="838.60" y1="1293.28" x2="834.10" y2="1293.28" stroke="#222222" stroke-width="1.5" />
<line x1="134.50" y1="1290.70" x2="139.00" y2="1290.70" stroke="#222222" stroke-width="1.5" />
<line x1="838.60" y1="1290.70" x2="834.10" y2="1290.70" stroke="#222222" stroke-width="1.5" />
<line x1="134.50" y1="1288.43" x2="139.00" y2="1288.43" stroke="#222222" stroke-width="1.5" />
<line x1="838.60" y1="1288.43" x2="834.10" y2="1288.43" stroke="#222222" stroke-width="1.5" />
<line x1="204.91" y1="1464.00" x2="204.91" y2="1471.00" stroke="#222222" stroke-width="1.5" />
<line x1="204.91" y1="1639.40" x2="204.91" y2="1632.40" stroke="#222222" stroke-width="1.5" />
<line x1="275.32" y1="1464.00" x2="275.32" y2="1471.00" stroke="#222222" stroke-width="1.5" />
<line x1="275.32" y1="1639.40" x2="275.32" y2="1632.40" stroke="#222222" stroke-width="1.5" />
<line x1="345.73" y1="1464.00" x2="345.73" y2="1471.00" stroke="#222222" stroke-width="1.5" />
<line x1="345.73" y1="1639.40" x2="345.73" y2="1632.40" stroke="#222222" stroke-width="1.5" />
<line x1="416.14" y1="1464.00" x2="416.14" y2="1471.00" stroke="#222222" stroke-width="1.5" />
<line x1="416.14" y1="1639.40" x2="416.14" y2="1632.40" stroke="#222222" stroke-width="1.5" />
<line x1="486.55" y1="1464.00" x2="486.55" y2="1471.00" stroke="#222222" stroke-width="1.5" />
<line x1="486.55" y1="1639.40" x2="486.55" y2="1632.40" stroke="#222222" stroke-width="1.5" />
<line x1="556.96" y1="1464.00" x2="556.96" y2="1471.00" stroke="#222222" stroke-width="1.5" />
<line x1="556.96" y1="1639.40" x2="556.96" y2="1632.40" stroke="#222222" stroke-width="1.5" />
<line x1="627.37" y1="1464.00" x2="627.37" y2="1471.00" stroke="#222222" stroke-width="1.5" />
<line x1="627.37" y1="1639.40" x2="627.37" y2="1632.40" stroke="#222222" stroke-width="1.5" />
<line x1="697.78" y1="1464.00" x2="697.78" y2="1471.00" stroke="#222222" stroke-width="1.5" />
<line x1="697.78" y1="1639.40" x2="697.78" y2="1632.40" stroke="#222222" stroke-width="1.5" />
<line x1="768.19" y1="1464.00" x2="768.19" y2="1471.00" stroke="#222222" stroke-width="1.5" />
<line x1="768.19" y1="1639.40" x2="768.19" y2="1632.40" stroke="#222222" stroke-width="1.5" />
<line x1="134.50" y1="1518.20" x2="141.50" y2="1518.20" stroke="#222222" stroke-width="1.5" />
<line x1="838.60" y1="1518.20" x2="831.60" y2="1518.20" stroke="#222222" stroke-width="1.5" />
<line x1="134.50" y1="1572.00" x2="141.50" y2="1572.00" stroke="#222222" stroke-width="1.5" />
<line x1="838.60" y1="1572.00" x2="831.60" y2="1572.00" stroke="#222222" stroke-width="1.5" />
<line x1="134.50" y1="1625.80" x2="141.50" y2="1625.80" stroke="#222222" stroke-width="1.5" />
<line x1="838.60" y1="1625.80" x2="831.60" y2="1625.80" stroke="#222222" stroke-width="1.5" />
<rect x="134.50" y="50.50" width="704.10" height="174.90" fill="none" stroke="#222222" stroke-width="1.6"/>
<rect x="134.50" y="225.40" width="704.10" height="178.10" fill="none" stroke="#222222" stroke-width="1.6"/>
<rect x="134.50" y="403.50" width="704.10" height="175.10" fill="none" stroke="#222222" stroke-width="1.6"/>
<rect x="134.50" y="578.60" width="704.10" height="178.40" fill="none" stroke="#222222" stroke-width="1.6"/>
<rect x="134.50" y="757.00" width="704.10" height="175.30" fill="none" stroke="#222222" stroke-width="1.6"/>
<rect x="134.50" y="932.30" width="704.10" height="178.10" fill="none" stroke="#222222" stroke-width="1.6"/>
<rect x="134.50" y="1110.40" width="704.10" height="176.00" fill="none" stroke="#222222" stroke-width="1.6"/>
<rect x="134.50" y="1286.40" width="704.10" height="177.60" fill="none" stroke="#222222" stroke-width="1.6"/>
<rect x="134.50" y="1464.00" width="704.10" height="175.40" fill="none" stroke="#222222" stroke-width="1.6"/>
<text x="90.29" y="61.76" font-size="27.5" fill="#222222" >10</text>
<text x="121.45" y="45.39" font-size="21.5" fill="#222222" textLength="8.38" lengthAdjust="spacingAndGlyphs" >1</text>
<text x="115.08" y="160.66" font-size="27.5" fill="#222222" >0</text>
<text x="90.29" y="415.86" font-size="27.5" fill="#222222" >10</text>
<text x="119.83" y="395.51" font-size="21.5" fill="#222222" textLength="14.04" lengthAdjust="spacingAndGlyphs" >2</text>
<text x="90.29" y="465.56" font-size="27.5" fill="#222222" >10</text>
<text x="121.45" y="444.29" font-size="21.5" fill="#222222" textLength="8.38" lengthAdjust="spacingAndGlyphs" >1</text>
<text x="115.08" y="493.56" font-size="27.5" fill="#222222" >0</text>
<text x="81.13" y="532.76" font-size="27.5" fill="#222222" >-10</text>
<text x="121.45" y="511.49" font-size="21.5" fill="#222222" textLength="8.38" lengthAdjust="spacingAndGlyphs" >1</text>
<text x="81.13" y="581.76" font-size="27.5" fill="#222222" >-10</text>
<text x="119.83" y="562.11" font-size="21.5" fill="#222222" textLength="14.04" lengthAdjust="spacingAndGlyphs" >2</text>
<text x="90.29" y="780.66" font-size="27.5" fill="#222222" >10</text>
<text x="121.45" y="763.89" font-size="21.5" fill="#222222" textLength="8.38" lengthAdjust="spacingAndGlyphs" >1</text>
<text x="90.29" y="821.96" font-size="27.5" fill="#222222" >10</text>
<text x="120.16" y="806.11" font-size="21.5" fill="#222222" textLength="13.38" lengthAdjust="spacingAndGlyphs" >0</text>
<text x="115.08" y="852.06" font-size="27.5" fill="#222222" >0</text>
<text x="81.13" y="891.96" font-size="27.5" fill="#222222" >-10</text>
<text x="120.16" y="875.41" font-size="21.5" fill="#222222" textLength="13.38" lengthAdjust="spacingAndGlyphs" >0</text>
<text x="81.13" y="932.56" font-size="27.5" fill="#222222" >-10</text>
<text x="121.45" y="915.79" font-size="21.5" fill="#222222" textLength="8.38" lengthAdjust="spacingAndGlyphs" >1</text>
<text x="842.01" y="262.26" font-size="27.5" fill="#222222" >1</text>
<text x="843.03" y="321.96" font-size="27.5" fill="#222222" >0</text>
<text x="842.88" y="380.96" font-size="27.5" fill="#222222" >-1</text>
<text x="842.72" y="615.66" font-size="27.5" fill="#222222" >2</text>
<text x="843.03" y="675.06" font-size="27.5" fill="#222222" >0</text>
<text x="842.88" y="734.36" font-size="27.5" fill="#222222" >-2</text>
<text x="843.03" y="939.86" font-size="27.5" fill="#222222" >0.2</text>
<text x="843.03" y="1029.36" font-size="27.5" fill="#222222" >0</text>
<text x="842.88" y="1118.36" font-size="27.5" fill="#222222" >-0.2</text>
<text x="84.49" y="1118.16" font-size="27.5" fill="#222222" >200</text>
<text x="84.49" y="1177.16" font-size="27.5" fill="#222222" >100</text>
<text x="115.08" y="1234.86" font-size="27.5" fill="#222222" >0</text>
<text x="75.33" y="1293.56" font-size="27.5" fill="#222222" >-100</text>
<text x="844.71" y="1297.76" font-size="27.5" fill="#222222" >10</text>
<text x="901.73" y="1286.06" font-size="24.0" fill="#222222" >-12</text>
<text x="844.71" y="1388.36" font-size="27.5" fill="#222222" >10</text>
<text x="901.73" y="1376.66" font-size="24.0" fill="#222222" >-14</text>
<text x="844.71" y="1475.76" font-size="27.5" fill="#222222" >10</text>
<text x="901.73" y="1464.36" font-size="24.0" fill="#222222" >-16</text>
<text x="84.49" y="1475.36" font-size="27.5" fill="#222222" >600</text>
<text x="84.49" y="1529.46" font-size="27.5" fill="#222222" >400</text>
<text x="84.49" y="1582.96" font-size="27.5" fill="#222222" >200</text>
<text x="115.08" y="1633.26" font-size="27.5" fill="#222222" >0</text>
<text x="126.85" y="1665.21" font-size="27.5" fill="#222222" >0</text>
<text x="197.29" y="1665.21" font-size="27.5" fill="#222222" >5</text>
<text x="258.92" y="1665.21" font-size="27.5" fill="#222222" >10</text>
<text x="329.37" y="1665.21" font-size="27.5" fill="#222222" >15</text>
<text x="400.09" y="1665.21" font-size="27.5" fill="#222222" >20</text>
<text x="470.54" y="1665.21" font-size="27.5" fill="#222222" >25</text>
<text x="541.08" y="1665.21" font-size="27.5" fill="#222222" >30</text>
<text x="611.53" y="1665.21" font-size="27.5" fill="#222222" >35</text>
<text x="682.11" y="1665.21" font-size="27.5" fill="#222222" >40</text>
<text x="752.56" y="1665.21" font-size="27.5" fill="#222222" >45</text>
<text x="822.69" y="1665.21" font-size="27.5" fill="#222222" >50</text>
<text x="441.13" y="1696.90" font-size="31.8" fill="#222222" textLength="88.20" lengthAdjust="spacingAndGlyphs" >t (min)</text>
<text x="295.21" y="29.20" font-size="39.2" fill="#000" textLength="258.60" lengthAdjust="spacingAndGlyphs" >[8.0,-5.0,0.0] R</text>
<text x="553.22" y="41.60" font-size="24.1" fill="#000" >E</text>
<text x="578.01" y="29.20" font-size="39.2" fill="#000" textLength="90.24" lengthAdjust="spacingAndGlyphs" >GSM</text>
<text x="144.00" y="86.50" font-size="40.0" fill="#000" font-weight="bold" textLength="20.86" lengthAdjust="spacingAndGlyphs" >a</text>
<text x="143.05" y="262.90" font-size="40.0" fill="#000" font-weight="bold" textLength="26.43" lengthAdjust="spacingAndGlyphs" >b</text>
<text x="143.71" y="439.90" font-size="40.0" fill="#000" font-weight="bold" textLength="22.57" lengthAdjust="spacingAndGlyphs" >c</text>
<text x="144.14" y="616.70" font-size="40.0" fill="#000" font-weight="bold" textLength="24.73" lengthAdjust="spacingAndGlyphs" >d</text>
<text x="143.29" y="793.40" font-size="40.0" fill="#000" font-weight="bold" textLength="24.42" lengthAdjust="spacingAndGlyphs" >e</text>
<text x="144.04" y="969.90" font-size="40.0" fill="#000" font-weight="bold" textLength="12.78" lengthAdjust="spacingAndGlyphs" >f</text>
<text x="143.46" y="1146.40" font-size="40.0" fill="#000" font-weight="bold" textLength="25.87" lengthAdjust="spacingAndGlyphs" >g</text>
<text x="143.58" y="1323.20" font-size="40.0" fill="#000" font-weight="bold" textLength="25.50" lengthAdjust="spacingAndGlyphs" >h</text>
<text x="143.34" y="1500.20" font-size="40.0" fill="#000" font-weight="bold" textLength="12.55" lengthAdjust="spacingAndGlyphs" >i</text>
<text transform="translate(23.90,189.40) rotate(-90)" font-size="32.0" fill="#222222" textLength="100.5" lengthAdjust="spacingAndGlyphs"><tspan font-family="Liberation Serif" font-style="italic">δ</tspan>B (nT)</text>
<text transform="translate(32.90,566.60) rotate(-90)" font-size="32.0" fill="#222222" textLength="149.9" lengthAdjust="spacingAndGlyphs"><tspan font-family="Liberation Serif" font-style="italic">δ</tspan>v (km s<tspan font-size="23" dy="-14.5">-1</tspan><tspan dy="14.5">)</tspan></text>
<text transform="translate(32.90,931.60) rotate(-90)" font-size="32.0" fill="#222222" textLength="169.8" lengthAdjust="spacingAndGlyphs"><tspan font-family="Liberation Serif" font-style="italic">δ</tspan>E (mV m<tspan font-size="23" dy="-14.5">-1</tspan><tspan dy="14.5">)</tspan></text>
<text transform="translate(32.90,1276.30) rotate(-90)" font-size="32.0" fill="#222222" textLength="155.3" lengthAdjust="spacingAndGlyphs">S (nW m<tspan font-size="23" dy="-14.5">-2</tspan><tspan dy="14.5">)</tspan></text>
<text transform="translate(33.60,1631.40) rotate(-90)" font-size="32.0" fill="#222222" textLength="156.6" lengthAdjust="spacingAndGlyphs">v<tspan font-size="25" dy="14.7">E</tspan><tspan dy="-14.7"> (km s</tspan><tspan font-size="23" dy="-14.5">-1</tspan><tspan dy="14.5">)</tspan></text>
<text transform="translate(955.20,365.00) rotate(-90)" font-size="32.0" fill="#222222" textLength="100.6" lengthAdjust="spacingAndGlyphs"><tspan font-family="Liberation Serif" font-style="italic">δ</tspan>B (nT)</text>
<text transform="translate(990.40,359.80) rotate(-90)" font-size="32.0" fill="#222222" textLength="93.8" lengthAdjust="spacingAndGlyphs">filtered</text>
<text transform="translate(964.30,741.40) rotate(-90)" font-size="32.0" fill="#222222" textLength="149.2" lengthAdjust="spacingAndGlyphs"><tspan font-family="Liberation Serif" font-style="italic">δ</tspan>v (km s<tspan font-size="23" dy="-14.5">-1</tspan><tspan dy="14.5">)</tspan></text>
<text transform="translate(999.70,713.20) rotate(-90)" font-size="32.0" fill="#222222" textLength="94.2" lengthAdjust="spacingAndGlyphs">filtered</text>
<text transform="translate(964.30,1107.60) rotate(-90)" font-size="32.0" fill="#222222" textLength="169.6" lengthAdjust="spacingAndGlyphs"><tspan font-family="Liberation Serif" font-style="italic">δ</tspan>E (mV m<tspan font-size="23" dy="-14.5">-1</tspan><tspan dy="14.5">)</tspan></text>
<text transform="translate(999.70,1067.60) rotate(-90)" font-size="32.0" fill="#222222" textLength="95.6" lengthAdjust="spacingAndGlyphs">filtered</text>
<text transform="translate(965.00,1436.60) rotate(-90)" font-size="32.0" fill="#222222" textLength="118.6" lengthAdjust="spacingAndGlyphs">u (J m<tspan font-size="23" dy="-14.5">-3</tspan><tspan dy="14.5">)</tspan></text>
<text x="848.78" y="89.60" font-size="28.5" fill="#000" textLength="54.05" lengthAdjust="spacingAndGlyphs" >Raw</text>
<text x="855.35" y="121.80" font-size="24.5" fill="#78A3C2" font-style="italic" font-family="Liberation Serif" textLength="10.26" lengthAdjust="spacingAndGlyphs" >δ</text>
<text x="868.96" y="121.80" font-size="28.5" fill="#78A3C2" textLength="19.05" lengthAdjust="spacingAndGlyphs" >B</text>
<text x="888.32" y="130.70" font-size="16.5" fill="#78A3C2" font-style="italic" font-family="Liberation Serif" textLength="7.53" lengthAdjust="spacingAndGlyphs" >r</text>
<text x="855.35" y="153.90" font-size="24.5" fill="#DBA993" font-style="italic" font-family="Liberation Serif" textLength="10.26" lengthAdjust="spacingAndGlyphs" >δ</text>
<text x="868.96" y="153.90" font-size="28.5" fill="#DBA993" textLength="19.05" lengthAdjust="spacingAndGlyphs" >B</text>
<text x="887.45" y="163.50" font-size="18.0" fill="#DBA993" font-family="Liberation Serif" textLength="10.23" lengthAdjust="spacingAndGlyphs" >ϕ</text>
<text x="855.35" y="186.10" font-size="24.5" fill="#EBD6A2" font-style="italic" font-family="Liberation Serif" textLength="10.26" lengthAdjust="spacingAndGlyphs" >δ</text>
<text x="868.96" y="186.10" font-size="28.5" fill="#EBD6A2" textLength="19.05" lengthAdjust="spacingAndGlyphs" >B</text>
<line x1="889.90" y1="183.30" x2="889.90" y2="199.10" stroke="#EBD6A2" stroke-width="1.3" />
<line x1="894.40" y1="183.30" x2="894.40" y2="199.10" stroke="#EBD6A2" stroke-width="1.3" />
<text x="82.78" y="264.70" font-size="28.5" fill="#000" textLength="36.12" lengthAdjust="spacingAndGlyphs" >Filt</text>
<text x="81.45" y="297.20" font-size="24.5" fill="#0072BD" font-style="italic" font-family="Liberation Serif" textLength="10.26" lengthAdjust="spacingAndGlyphs" >δ</text>
<text x="94.86" y="297.20" font-size="28.5" fill="#0072BD" textLength="19.05" lengthAdjust="spacingAndGlyphs" >B</text>
<text x="114.22" y="306.10" font-size="16.5" fill="#0072BD" font-style="italic" font-family="Liberation Serif" textLength="7.53" lengthAdjust="spacingAndGlyphs" >r</text>
<text x="81.45" y="329.60" font-size="24.5" fill="#D95319" font-style="italic" font-family="Liberation Serif" textLength="10.26" lengthAdjust="spacingAndGlyphs" >δ</text>
<text x="94.86" y="329.60" font-size="28.5" fill="#D95319" textLength="19.05" lengthAdjust="spacingAndGlyphs" >B</text>
<text x="113.35" y="339.20" font-size="18.0" fill="#D95319" font-family="Liberation Serif" textLength="10.23" lengthAdjust="spacingAndGlyphs" >ϕ</text>
<text x="81.45" y="361.70" font-size="24.5" fill="#EDB120" font-style="italic" font-family="Liberation Serif" textLength="10.26" lengthAdjust="spacingAndGlyphs" >δ</text>
<text x="94.86" y="361.70" font-size="28.5" fill="#EDB120" textLength="19.05" lengthAdjust="spacingAndGlyphs" >B</text>
<line x1="115.80" y1="358.90" x2="115.80" y2="374.70" stroke="#EDB120" stroke-width="1.3" />
<line x1="120.30" y1="358.90" x2="120.30" y2="374.70" stroke="#EDB120" stroke-width="1.3" />
<text x="848.57" y="440.50" font-size="28.5" fill="#000" textLength="54.36" lengthAdjust="spacingAndGlyphs" >Raw</text>
<text x="855.45" y="472.60" font-size="24.5" fill="#78A3C2" font-style="italic" font-family="Liberation Serif" textLength="10.26" lengthAdjust="spacingAndGlyphs" >δ</text>
<text x="869.61" y="472.60" font-size="27.5" fill="#78A3C2" textLength="13.59" lengthAdjust="spacingAndGlyphs" stroke="#78A3C2" stroke-width="0.8">v</text>
<text x="883.62" y="481.50" font-size="16.5" fill="#78A3C2" font-style="italic" font-family="Liberation Serif" textLength="7.53" lengthAdjust="spacingAndGlyphs" >r</text>
<text x="855.45" y="504.60" font-size="24.5" fill="#DBA993" font-style="italic" font-family="Liberation Serif" textLength="10.26" lengthAdjust="spacingAndGlyphs" >δ</text>
<text x="869.61" y="504.60" font-size="27.5" fill="#DBA993" textLength="13.59" lengthAdjust="spacingAndGlyphs" stroke="#DBA993" stroke-width="0.8">v</text>
<text x="882.75" y="514.20" font-size="18.0" fill="#DBA993" font-family="Liberation Serif" textLength="10.23" lengthAdjust="spacingAndGlyphs" >ϕ</text>
<text x="855.45" y="536.70" font-size="24.5" fill="#EBD6A2" font-style="italic" font-family="Liberation Serif" textLength="10.26" lengthAdjust="spacingAndGlyphs" >δ</text>
<text x="869.61" y="536.70" font-size="27.5" fill="#EBD6A2" textLength="13.59" lengthAdjust="spacingAndGlyphs" stroke="#EBD6A2" stroke-width="0.8">v</text>
<line x1="885.20" y1="533.90" x2="885.20" y2="549.70" stroke="#EBD6A2" stroke-width="1.3" />
<line x1="889.70" y1="533.90" x2="889.70" y2="549.70" stroke="#EBD6A2" stroke-width="1.3" />
<text x="88.02" y="625.00" font-size="28.5" fill="#000" textLength="36.98" lengthAdjust="spacingAndGlyphs" >Filt</text>
<text x="87.15" y="657.10" font-size="24.5" fill="#0072BD" font-style="italic" font-family="Liberation Serif" textLength="10.26" lengthAdjust="spacingAndGlyphs" >δ</text>
<text x="101.41" y="657.10" font-size="27.5" fill="#0072BD" textLength="13.59" lengthAdjust="spacingAndGlyphs" stroke="#0072BD" stroke-width="0.8">v</text>
<text x="115.42" y="666.00" font-size="16.5" fill="#0072BD" font-style="italic" font-family="Liberation Serif" textLength="7.53" lengthAdjust="spacingAndGlyphs" >r</text>
<text x="87.15" y="689.20" font-size="24.5" fill="#D95319" font-style="italic" font-family="Liberation Serif" textLength="10.26" lengthAdjust="spacingAndGlyphs" >δ</text>
<text x="101.41" y="689.20" font-size="27.5" fill="#D95319" textLength="13.59" lengthAdjust="spacingAndGlyphs" stroke="#D95319" stroke-width="0.8">v</text>
<text x="114.55" y="698.80" font-size="18.0" fill="#D95319" font-family="Liberation Serif" textLength="10.23" lengthAdjust="spacingAndGlyphs" >ϕ</text>
<text x="87.15" y="720.80" font-size="24.5" fill="#EDB120" font-style="italic" font-family="Liberation Serif" textLength="10.26" lengthAdjust="spacingAndGlyphs" >δ</text>
<text x="101.41" y="720.80" font-size="27.5" fill="#EDB120" textLength="13.59" lengthAdjust="spacingAndGlyphs" stroke="#EDB120" stroke-width="0.8">v</text>
<line x1="117.00" y1="718.00" x2="117.00" y2="733.80" stroke="#EDB120" stroke-width="1.3" />
<line x1="121.50" y1="718.00" x2="121.50" y2="733.80" stroke="#EDB120" stroke-width="1.3" />
<text x="848.57" y="796.70" font-size="28.5" fill="#000" textLength="54.36" lengthAdjust="spacingAndGlyphs" >Raw</text>
<text x="855.45" y="828.80" font-size="24.5" fill="#78A3C2" font-style="italic" font-family="Liberation Serif" textLength="10.26" lengthAdjust="spacingAndGlyphs" >δ</text>
<text x="869.40" y="828.80" font-size="28.5" fill="#78A3C2" textLength="18.71" lengthAdjust="spacingAndGlyphs" >E</text>
<text x="888.32" y="837.70" font-size="16.5" fill="#78A3C2" font-style="italic" font-family="Liberation Serif" textLength="7.53" lengthAdjust="spacingAndGlyphs" >r</text>
<text x="855.45" y="860.90" font-size="24.5" fill="#DBA993" font-style="italic" font-family="Liberation Serif" textLength="10.26" lengthAdjust="spacingAndGlyphs" >δ</text>
<text x="869.40" y="860.90" font-size="28.5" fill="#DBA993" textLength="18.71" lengthAdjust="spacingAndGlyphs" >E</text>
<text x="887.45" y="870.50" font-size="18.0" fill="#DBA993" font-family="Liberation Serif" textLength="10.23" lengthAdjust="spacingAndGlyphs" >ϕ</text>
<text x="855.45" y="892.90" font-size="24.5" fill="#EBD6A2" font-style="italic" font-family="Liberation Serif" textLength="10.26" lengthAdjust="spacingAndGlyphs" >δ</text>
<text x="869.40" y="892.90" font-size="28.5" fill="#EBD6A2" textLength="18.71" lengthAdjust="spacingAndGlyphs" >E</text>
<line x1="889.90" y1="890.10" x2="889.90" y2="905.90" stroke="#EBD6A2" stroke-width="1.3" />
<line x1="894.40" y1="890.10" x2="894.40" y2="905.90" stroke="#EBD6A2" stroke-width="1.3" />
<text x="84.67" y="974.20" font-size="28.5" fill="#000" textLength="36.23" lengthAdjust="spacingAndGlyphs" >Filt</text>
<text x="83.25" y="1006.30" font-size="24.5" fill="#0072BD" font-style="italic" font-family="Liberation Serif" textLength="10.26" lengthAdjust="spacingAndGlyphs" >δ</text>
<text x="97.50" y="1006.30" font-size="28.5" fill="#0072BD" textLength="18.71" lengthAdjust="spacingAndGlyphs" >E</text>
<text x="116.42" y="1015.20" font-size="16.5" fill="#0072BD" font-style="italic" font-family="Liberation Serif" textLength="7.53" lengthAdjust="spacingAndGlyphs" >r</text>
<text x="83.25" y="1038.30" font-size="24.5" fill="#D95319" font-style="italic" font-family="Liberation Serif" textLength="10.26" lengthAdjust="spacingAndGlyphs" >δ</text>
<text x="97.50" y="1038.30" font-size="28.5" fill="#D95319" textLength="18.71" lengthAdjust="spacingAndGlyphs" >E</text>
<text x="115.55" y="1047.90" font-size="18.0" fill="#D95319" font-family="Liberation Serif" textLength="10.23" lengthAdjust="spacingAndGlyphs" >ϕ</text>
<text x="83.25" y="1070.80" font-size="24.5" fill="#EDB120" font-style="italic" font-family="Liberation Serif" textLength="10.26" lengthAdjust="spacingAndGlyphs" >δ</text>
<text x="97.50" y="1070.80" font-size="28.5" fill="#EDB120" textLength="18.71" lengthAdjust="spacingAndGlyphs" >E</text>
<line x1="118.00" y1="1068.00" x2="118.00" y2="1083.80" stroke="#EDB120" stroke-width="1.3" />
<line x1="122.50" y1="1068.00" x2="122.50" y2="1083.80" stroke="#EDB120" stroke-width="1.3" />
<text x="848.47" y="1159.20" font-size="28.5" fill="#000" textLength="98.99" lengthAdjust="spacingAndGlyphs" >Inst Avg</text>
<text x="857.51" y="1190.70" font-size="28.5" fill="#80B9DE" >S</text>
<text x="876.32" y="1199.60" font-size="16.5" fill="#80B9DE" font-style="italic" font-family="Liberation Serif" textLength="7.53" lengthAdjust="spacingAndGlyphs" >r</text>
<text x="909.51" y="1190.70" font-size="28.5" fill="#0072BD" >S</text>
<text x="928.22" y="1199.60" font-size="16.5" fill="#0072BD" font-style="italic" font-family="Liberation Serif" textLength="7.53" lengthAdjust="spacingAndGlyphs" >r</text>
<text x="857.51" y="1222.70" font-size="28.5" fill="#ECA98C" >S</text>
<text x="875.97" y="1232.30" font-size="18.0" fill="#ECA98C" font-family="Liberation Serif" textLength="9.77" lengthAdjust="spacingAndGlyphs" >ϕ</text>
<text x="909.51" y="1222.70" font-size="28.5" fill="#D95319" >S</text>
<text x="927.87" y="1232.30" font-size="18.0" fill="#D95319" font-family="Liberation Serif" textLength="9.77" lengthAdjust="spacingAndGlyphs" >ϕ</text>
<text x="857.51" y="1254.60" font-size="28.5" fill="#F6D890" >S</text>
<line x1="878.00" y1="1251.60" x2="878.00" y2="1267.50" stroke="#F6D890" stroke-width="1.3" />
<line x1="883.00" y1="1251.60" x2="883.00" y2="1267.50" stroke="#F6D890" stroke-width="1.3" />
<text x="909.51" y="1254.60" font-size="28.5" fill="#EDB120" >S</text>
<line x1="929.90" y1="1251.60" x2="929.90" y2="1267.50" stroke="#EDB120" stroke-width="1.3" />
<line x1="934.90" y1="1251.60" x2="934.90" y2="1267.50" stroke="#EDB120" stroke-width="1.3" />
<text x="27.69" y="1333.30" font-size="28.5" fill="#000" textLength="98.26" lengthAdjust="spacingAndGlyphs" >Inst Avg</text>
<text x="36.25" y="1365.60" font-size="27.8" fill="#BF97C7" textLength="15.84" lengthAdjust="spacingAndGlyphs" >u</text>
<text x="51.55" y="1374.30" font-size="15.3" fill="#BF97C7" textLength="11.78" lengthAdjust="spacingAndGlyphs" >B</text>
<text x="87.15" y="1365.60" font-size="27.8" fill="#7E2F8E" textLength="15.84" lengthAdjust="spacingAndGlyphs" stroke="#7E2F8E" stroke-width="0.7">u</text>
<text x="102.25" y="1374.30" font-size="15.3" fill="#7E2F8E" textLength="11.78" lengthAdjust="spacingAndGlyphs" stroke="#7E2F8E" stroke-width="0.35">B</text>
<text x="36.25" y="1397.60" font-size="27.8" fill="#BBD698" textLength="15.84" lengthAdjust="spacingAndGlyphs" >u</text>
<text x="51.66" y="1406.30" font-size="15.3" fill="#BBD698" textLength="10.93" lengthAdjust="spacingAndGlyphs" >K</text>
<text x="87.15" y="1397.60" font-size="27.8" fill="#77AC30" textLength="15.84" lengthAdjust="spacingAndGlyphs" stroke="#77AC30" stroke-width="0.7">u</text>
<text x="102.36" y="1406.30" font-size="15.3" fill="#77AC30" textLength="10.93" lengthAdjust="spacingAndGlyphs" stroke="#77AC30" stroke-width="0.35">K</text>
<text x="849.01" y="1516.30" font-size="27.5" fill="#0072BD" textLength="13.28" lengthAdjust="spacingAndGlyphs" >v</text>
<text x="862.43" y="1525.50" font-size="16.7" fill="#0072BD" >E,</text>
<text x="878.28" y="1526.40" font-size="17.8" fill="#0072BD" font-style="italic" font-family="Liberation Serif" textLength="7.86" lengthAdjust="spacingAndGlyphs" >r</text>
<text x="849.01" y="1553.40" font-size="27.5" fill="#D95319" textLength="13.28" lengthAdjust="spacingAndGlyphs" >v</text>
<text x="862.43" y="1562.60" font-size="16.7" fill="#D95319" >E,</text>
<text x="877.03" y="1564.80" font-size="20.0" fill="#D95319" font-family="Liberation Serif" textLength="11.95" lengthAdjust="spacingAndGlyphs" >ϕ</text>
<text x="849.01" y="1590.60" font-size="27.5" fill="#EDB120" textLength="13.28" lengthAdjust="spacingAndGlyphs" >v</text>
<text x="862.43" y="1599.80" font-size="16.7" fill="#EDB120" >E,</text>
<line x1="880.00" y1="1587.40" x2="880.00" y2="1603.30" stroke="#EDB120" stroke-width="1.3" />
<line x1="884.40" y1="1587.40" x2="884.40" y2="1603.30" stroke="#EDB120" stroke-width="1.3" />
<rect x="181.4" y="1543.4" width="2.6" height="22.9" fill="#808080"/>
<rect x="241.0" y="1543.4" width="2.6" height="22.9" fill="#808080"/>
<text x="187.28" y="1566.30" font-size="31.5" fill="#808080" font-weight="bold" textLength="16.75" lengthAdjust="spacingAndGlyphs" >v</text>
<text x="203.77" y="1576.80" font-size="18.2" fill="#808080" textLength="35.04" lengthAdjust="spacingAndGlyphs" >msh</text>
</svg></body></html>
